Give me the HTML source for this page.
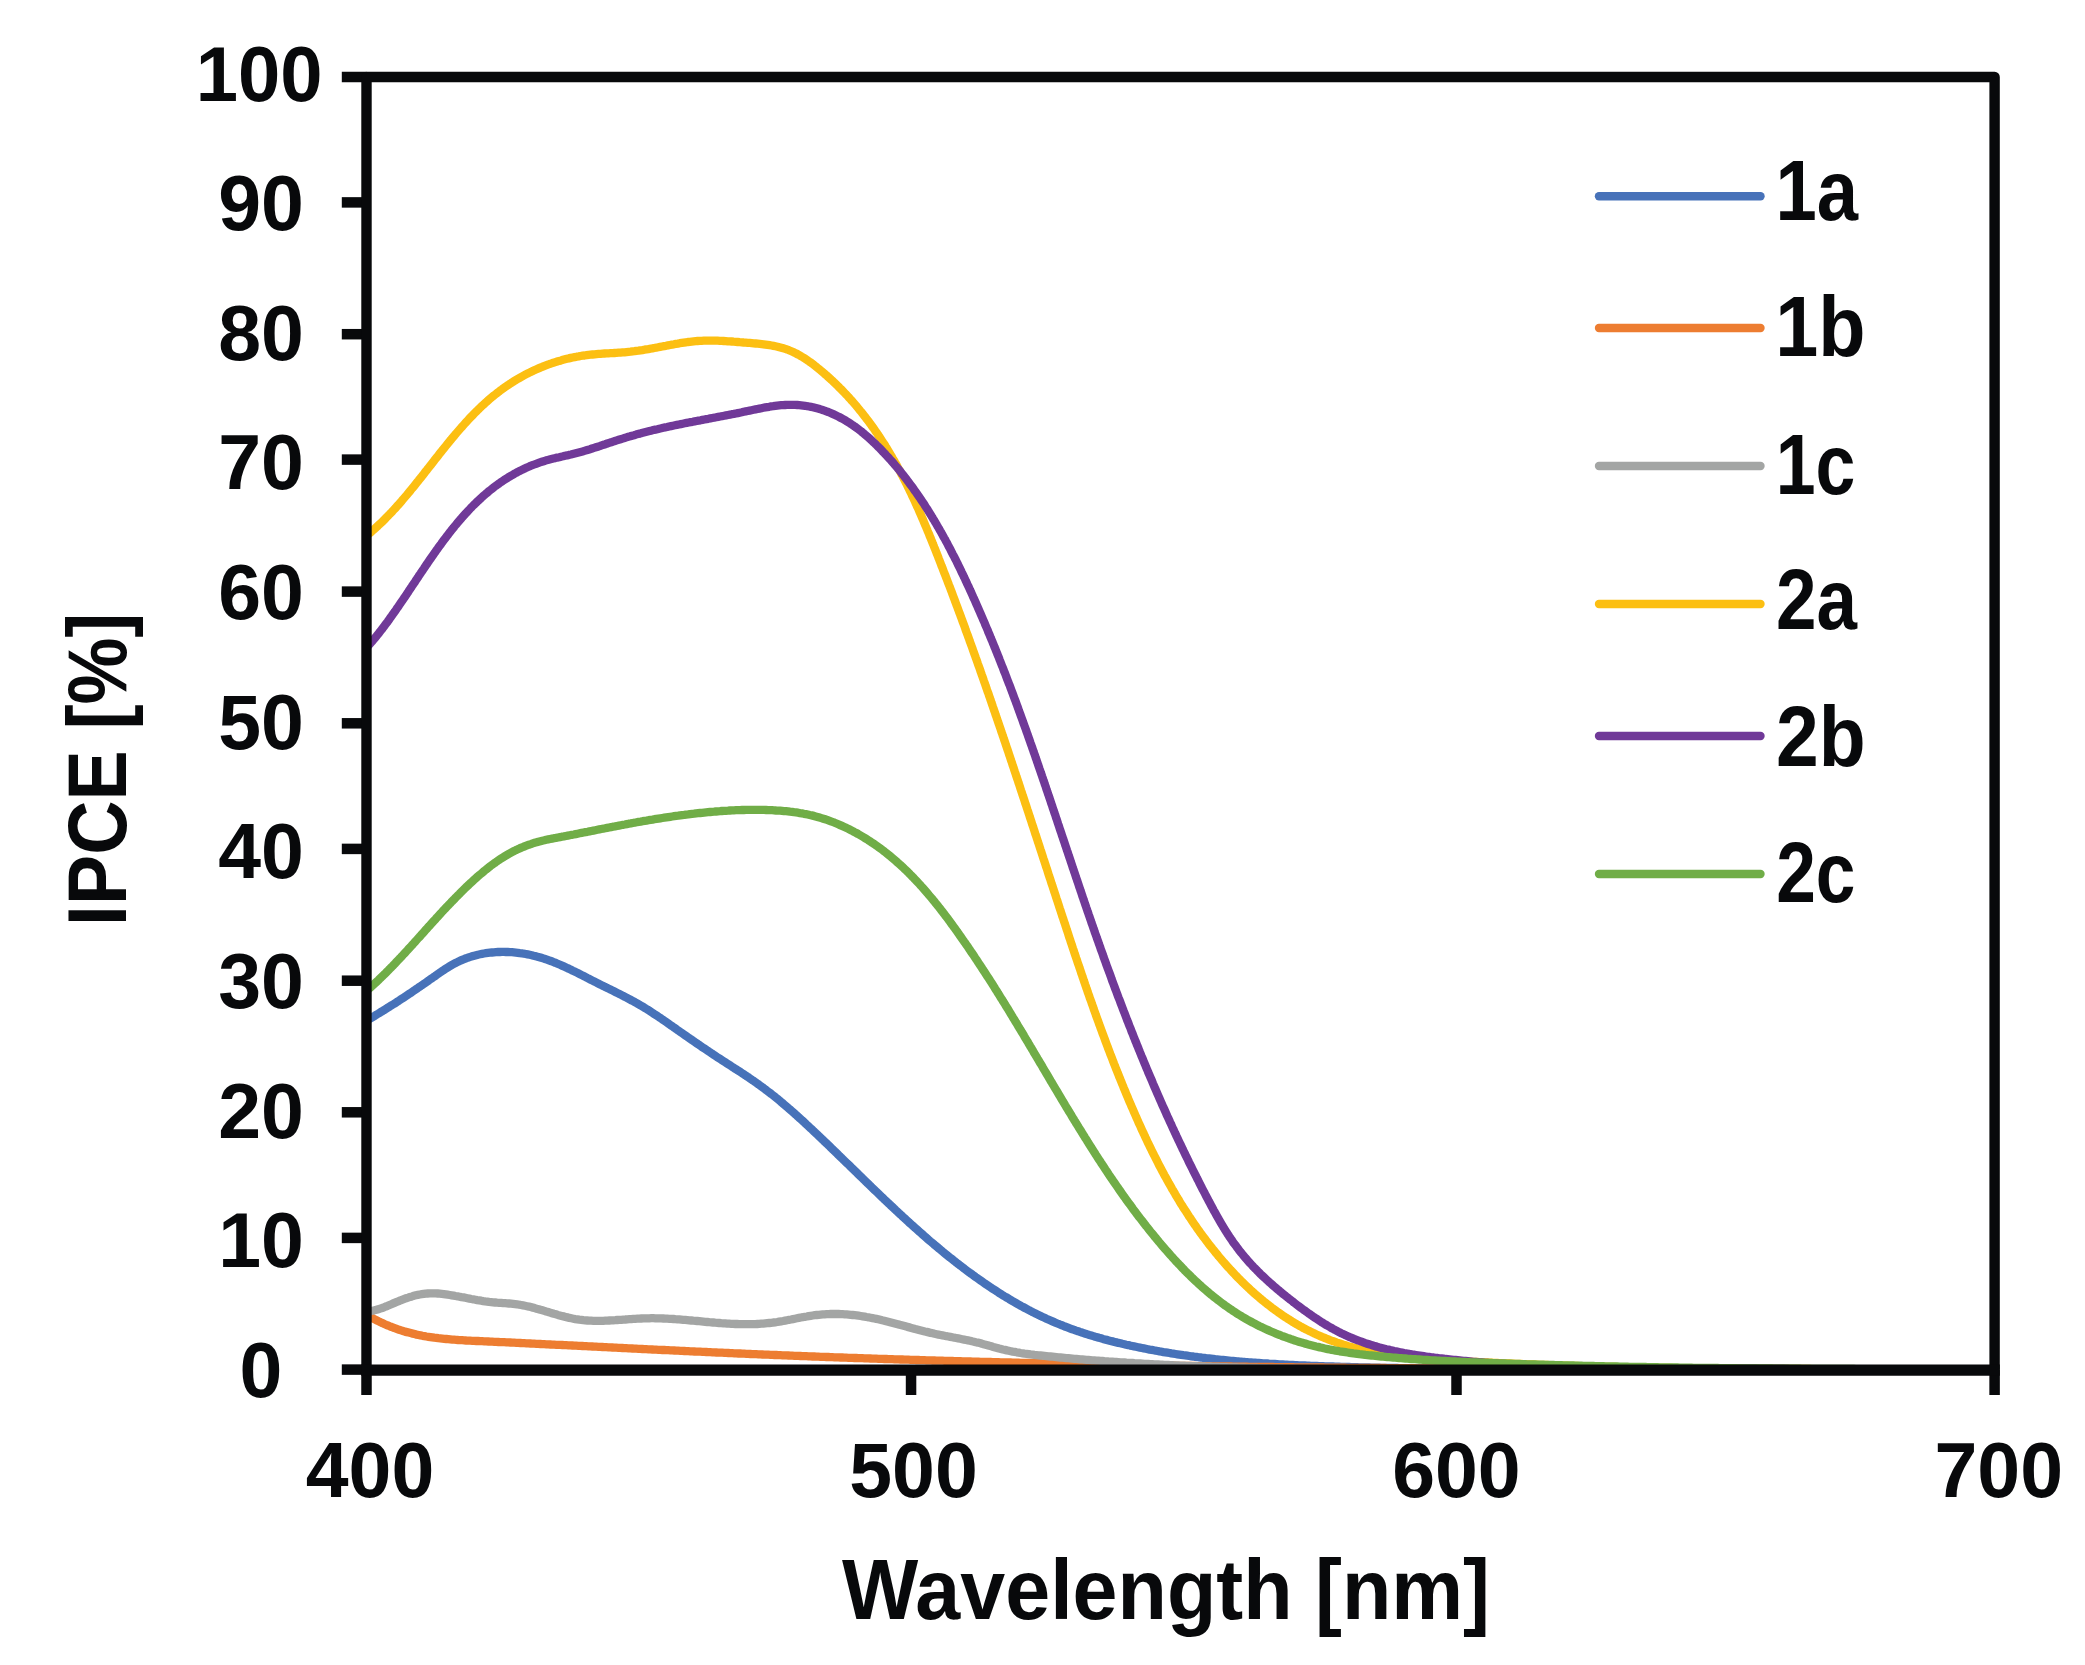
<!DOCTYPE html>
<html><head><meta charset="utf-8"><title>IPCE</title>
<style>html,body{margin:0;padding:0;background:#fff;overflow:hidden}svg{display:block}</style>
</head><body>
<svg width="2085" height="1665" viewBox="0 0 2085 1665">
<rect width="2085" height="1665" fill="#ffffff"/>
<g fill="none" stroke-width="8.3" stroke-linejoin="round" stroke-linecap="butt">
<clipPath id="pa"><rect x="366.5" y="77" width="1628" height="1293"/></clipPath>
<g clip-path="url(#pa)">
<path d="M366.5,1020.7 L368.2,1019.7 L369.9,1018.7 L371.7,1017.6 L373.4,1016.6 L375.1,1015.6 L376.8,1014.5 L378.5,1013.5 L380.2,1012.4 L381.9,1011.4 L383.6,1010.3 L385.3,1009.3 L387.0,1008.2 L388.7,1007.2 L390.4,1006.1 L392.1,1005.0 L393.8,1004.0 L395.5,1002.9 L397.2,1001.8 L398.9,1000.7 L400.5,999.6 L402.2,998.5 L403.9,997.4 L405.6,996.3 L407.2,995.2 L408.9,994.1 L410.6,993.0 L412.2,991.9 L413.9,990.7 L415.5,989.6 L417.2,988.5 L418.8,987.3 L420.5,986.2 L422.1,985.1 L423.8,983.9 L425.4,982.8 L427.1,981.6 L428.7,980.5 L430.3,979.3 L432.0,978.2 L433.6,977.0 L435.3,975.9 L436.9,974.7 L438.5,973.6 L440.2,972.4 L441.8,971.3 L443.5,970.2 L445.2,969.1 L446.9,968.0 L448.6,966.9 L450.3,965.9 L452.0,964.9 L453.8,963.9 L455.5,963.0 L457.3,962.1 L459.1,961.2 L460.9,960.4 L462.8,959.6 L464.6,958.9 L466.5,958.1 L468.4,957.5 L470.3,956.9 L472.2,956.3 L474.2,955.7 L476.1,955.2 L478.0,954.7 L480.0,954.3 L482.0,953.9 L483.9,953.5 L485.9,953.2 L487.9,952.9 L489.9,952.7 L491.9,952.5 L493.9,952.3 L495.9,952.1 L497.9,952.0 L499.9,952.0 L501.9,951.9 L503.9,951.9 L505.9,952.0 L507.9,952.0 L509.9,952.1 L511.9,952.2 L513.9,952.4 L515.9,952.6 L517.8,952.8 L519.8,953.1 L521.8,953.3 L523.8,953.7 L525.8,954.0 L527.7,954.4 L529.7,954.8 L531.7,955.2 L533.6,955.7 L535.5,956.1 L537.5,956.7 L539.4,957.2 L541.3,957.8 L543.2,958.4 L545.1,959.0 L547.0,959.6 L548.9,960.3 L550.8,961.0 L552.7,961.7 L554.5,962.5 L556.4,963.2 L558.2,964.0 L560.1,964.8 L561.9,965.6 L563.8,966.4 L565.6,967.2 L567.4,968.1 L569.2,968.9 L571.0,969.8 L572.8,970.7 L574.6,971.5 L576.4,972.4 L578.2,973.3 L580.0,974.2 L581.8,975.1 L583.6,976.0 L585.3,976.9 L587.1,977.9 L588.9,978.8 L590.7,979.7 L592.5,980.6 L594.3,981.5 L596.1,982.4 L597.8,983.3 L599.6,984.2 L601.4,985.1 L603.2,986.0 L605.0,986.9 L606.8,987.7 L608.6,988.6 L610.4,989.5 L612.2,990.4 L614.0,991.3 L615.8,992.2 L617.6,993.1 L619.4,994.0 L621.2,994.9 L622.9,995.8 L624.7,996.7 L626.5,997.6 L628.3,998.6 L630.0,999.5 L631.8,1000.5 L633.6,1001.4 L635.3,1002.4 L637.1,1003.4 L638.8,1004.4 L640.5,1005.4 L642.3,1006.4 L644.0,1007.4 L645.7,1008.5 L647.4,1009.5 L649.1,1010.6 L650.8,1011.7 L652.4,1012.8 L654.1,1013.9 L655.8,1015.0 L657.5,1016.1 L659.1,1017.2 L660.8,1018.3 L662.4,1019.5 L664.1,1020.6 L665.7,1021.7 L667.4,1022.9 L669.0,1024.0 L670.6,1025.2 L672.3,1026.3 L673.9,1027.5 L675.6,1028.6 L677.2,1029.8 L678.8,1030.9 L680.5,1032.1 L682.1,1033.2 L683.8,1034.4 L685.4,1035.5 L687.1,1036.7 L688.7,1037.8 L690.4,1038.9 L692.0,1040.1 L693.7,1041.2 L695.3,1042.3 L697.0,1043.5 L698.6,1044.6 L700.3,1045.7 L701.9,1046.9 L703.6,1048.0 L705.3,1049.1 L706.9,1050.2 L708.6,1051.3 L710.2,1052.4 L711.9,1053.6 L713.6,1054.7 L715.3,1055.8 L716.9,1056.9 L718.6,1058.0 L720.3,1059.1 L722.0,1060.2 L723.6,1061.2 L725.3,1062.3 L727.0,1063.4 L728.7,1064.5 L730.4,1065.6 L732.0,1066.7 L733.7,1067.8 L735.4,1068.9 L737.1,1069.9 L738.8,1071.0 L740.5,1072.1 L742.1,1073.2 L743.8,1074.3 L745.5,1075.4 L747.1,1076.5 L748.8,1077.6 L750.5,1078.8 L752.1,1079.9 L753.8,1081.0 L755.4,1082.2 L757.0,1083.3 L758.7,1084.5 L760.3,1085.7 L761.9,1086.9 L763.5,1088.0 L765.1,1089.2 L766.7,1090.5 L768.3,1091.7 L769.9,1092.9 L771.5,1094.1 L773.1,1095.4 L774.6,1096.6 L776.2,1097.9 L777.7,1099.1 L779.3,1100.4 L780.8,1101.7 L782.4,1103.0 L783.9,1104.3 L785.4,1105.6 L786.9,1106.9 L788.4,1108.2 L790.0,1109.5 L791.5,1110.8 L793.0,1112.1 L794.5,1113.5 L796.0,1114.8 L797.4,1116.1 L798.9,1117.5 L800.4,1118.8 L801.9,1120.2 L803.4,1121.5 L804.8,1122.9 L806.3,1124.3 L807.8,1125.6 L809.2,1127.0 L810.7,1128.4 L812.2,1129.7 L813.6,1131.1 L815.1,1132.5 L816.5,1133.9 L818.0,1135.2 L819.4,1136.6 L820.9,1138.0 L822.3,1139.4 L823.8,1140.8 L825.2,1142.2 L826.7,1143.5 L828.1,1144.9 L829.6,1146.3 L831.0,1147.7 L832.4,1149.1 L833.9,1150.5 L835.3,1151.9 L836.8,1153.3 L838.2,1154.7 L839.6,1156.1 L841.1,1157.5 L842.5,1158.9 L843.9,1160.3 L845.4,1161.7 L846.8,1163.1 L848.3,1164.4 L849.7,1165.8 L851.1,1167.2 L852.6,1168.6 L854.0,1170.0 L855.4,1171.4 L856.9,1172.8 L858.3,1174.2 L859.7,1175.6 L861.2,1177.0 L862.6,1178.4 L864.0,1179.8 L865.5,1181.2 L866.9,1182.6 L868.4,1184.0 L869.8,1185.4 L871.2,1186.8 L872.7,1188.2 L874.1,1189.6 L875.6,1191.0 L877.0,1192.3 L878.5,1193.7 L879.9,1195.1 L881.3,1196.5 L882.8,1197.9 L884.2,1199.3 L885.7,1200.6 L887.1,1202.0 L888.6,1203.4 L890.1,1204.8 L891.5,1206.2 L893.0,1207.5 L894.4,1208.9 L895.9,1210.3 L897.4,1211.6 L898.8,1213.0 L900.3,1214.4 L901.8,1215.7 L903.2,1217.1 L904.7,1218.4 L906.2,1219.8 L907.7,1221.1 L909.1,1222.5 L910.6,1223.8 L912.1,1225.2 L913.6,1226.5 L915.1,1227.9 L916.6,1229.2 L918.1,1230.5 L919.6,1231.9 L921.1,1233.2 L922.6,1234.5 L924.1,1235.8 L925.6,1237.1 L927.1,1238.5 L928.6,1239.8 L930.1,1241.1 L931.7,1242.4 L933.2,1243.7 L934.7,1245.0 L936.3,1246.3 L937.8,1247.5 L939.3,1248.8 L940.9,1250.1 L942.4,1251.4 L944.0,1252.7 L945.5,1253.9 L947.1,1255.2 L948.6,1256.4 L950.2,1257.7 L951.8,1258.9 L953.3,1260.2 L954.9,1261.4 L956.5,1262.7 L958.1,1263.9 L959.6,1265.1 L961.2,1266.3 L962.8,1267.5 L964.4,1268.8 L966.0,1270.0 L967.6,1271.2 L969.2,1272.4 L970.8,1273.5 L972.5,1274.7 L974.1,1275.9 L975.7,1277.1 L977.3,1278.2 L979.0,1279.4 L980.6,1280.5 L982.3,1281.7 L983.9,1282.8 L985.6,1284.0 L987.2,1285.1 L988.9,1286.2 L990.5,1287.3 L992.2,1288.4 L993.9,1289.5 L995.6,1290.6 L997.3,1291.7 L998.9,1292.8 L1000.6,1293.8 L1002.3,1294.9 L1004.0,1296.0 L1005.7,1297.0 L1007.5,1298.0 L1009.2,1299.1 L1010.9,1300.1 L1012.6,1301.1 L1014.4,1302.1 L1016.1,1303.1 L1017.8,1304.1 L1019.6,1305.1 L1021.3,1306.1 L1023.1,1307.0 L1024.9,1308.0 L1026.6,1308.9 L1028.4,1309.9 L1030.2,1310.8 L1031.9,1311.7 L1033.7,1312.6 L1035.5,1313.5 L1037.3,1314.4 L1039.1,1315.3 L1040.9,1316.1 L1042.7,1317.0 L1044.5,1317.8 L1046.4,1318.7 L1048.2,1319.5 L1050.0,1320.3 L1051.9,1321.1 L1053.7,1321.9 L1055.5,1322.7 L1057.4,1323.5 L1059.2,1324.2 L1061.1,1325.0 L1063.0,1325.7 L1064.8,1326.5 L1066.7,1327.2 L1068.6,1327.9 L1070.4,1328.6 L1072.3,1329.3 L1074.2,1329.9 L1076.1,1330.6 L1078.0,1331.2 L1079.9,1331.9 L1081.8,1332.5 L1083.7,1333.1 L1085.6,1333.8 L1087.5,1334.4 L1089.4,1335.0 L1091.3,1335.5 L1093.3,1336.1 L1095.2,1336.7 L1097.1,1337.2 L1099.0,1337.8 L1101.0,1338.3 L1102.9,1338.9 L1104.8,1339.4 L1106.8,1339.9 L1108.7,1340.4 L1110.6,1340.9 L1112.6,1341.4 L1114.5,1341.9 L1116.5,1342.4 L1118.4,1342.9 L1120.4,1343.3 L1122.3,1343.8 L1124.3,1344.2 L1126.2,1344.7 L1128.2,1345.1 L1130.1,1345.6 L1132.1,1346.0 L1134.0,1346.4 L1136.0,1346.8 L1138.0,1347.2 L1139.9,1347.6 L1141.9,1348.0 L1143.8,1348.4 L1145.8,1348.8 L1147.8,1349.2 L1149.7,1349.6 L1151.7,1349.9 L1153.7,1350.3 L1155.7,1350.7 L1157.6,1351.0 L1159.6,1351.4 L1161.6,1351.7 L1163.5,1352.1 L1165.5,1352.4 L1167.5,1352.7 L1169.5,1353.0 L1171.4,1353.4 L1173.4,1353.7 L1175.4,1354.0 L1177.4,1354.3 L1179.4,1354.6 L1181.3,1354.9 L1183.3,1355.2 L1185.3,1355.4 L1187.3,1355.7 L1189.3,1356.0 L1191.3,1356.3 L1193.3,1356.5 L1195.2,1356.8 L1197.2,1357.0 L1199.2,1357.3 L1201.2,1357.5 L1203.2,1357.8 L1205.2,1358.0 L1207.2,1358.3 L1209.2,1358.5 L1211.1,1358.7 L1213.1,1358.9 L1215.1,1359.2 L1217.1,1359.4 L1219.1,1359.6 L1221.1,1359.8 L1223.1,1360.0 L1225.1,1360.2 L1227.1,1360.4 L1229.1,1360.6 L1231.1,1360.8 L1233.1,1360.9 L1235.1,1361.1 L1237.1,1361.3 L1239.1,1361.5 L1241.0,1361.6 L1243.0,1361.8 L1245.0,1362.0 L1247.0,1362.1 L1249.0,1362.3 L1251.0,1362.4 L1253.0,1362.6 L1255.0,1362.7 L1257.0,1362.9 L1259.0,1363.0 L1261.0,1363.1 L1263.0,1363.3 L1265.0,1363.4 L1267.0,1363.5 L1269.0,1363.7 L1271.0,1363.8 L1273.0,1363.9 L1275.0,1364.0 L1277.0,1364.1 L1279.0,1364.3 L1281.0,1364.4 L1283.0,1364.5 L1285.0,1364.6 L1287.0,1364.7 L1289.0,1364.8 L1291.0,1364.9 L1293.0,1365.0 L1295.0,1365.1 L1297.0,1365.2 L1299.0,1365.3 L1301.0,1365.4 L1303.0,1365.4 L1305.0,1365.5 L1307.0,1365.6 L1309.0,1365.7 L1311.0,1365.8 L1313.0,1365.8 L1315.0,1365.9 L1317.0,1366.0 L1319.0,1366.1 L1321.0,1366.1 L1323.0,1366.2 L1325.0,1366.3 L1327.0,1366.4 L1329.0,1366.4 L1331.0,1366.5 L1333.0,1366.5 L1335.0,1366.6 L1337.0,1366.7 L1339.0,1366.7 L1341.1,1366.8 L1343.1,1366.9 L1345.1,1366.9 L1347.1,1367.0 L1349.1,1367.0 L1351.1,1367.1 L1353.1,1367.1 L1355.1,1367.2 L1357.1,1367.2 L1359.1,1367.3 L1361.1,1367.3 L1363.1,1367.4 L1365.1,1367.4 L1367.1,1367.5 L1369.1,1367.5 L1371.1,1367.6 L1373.1,1367.6 L1375.1,1367.6 L1377.1,1367.7 L1379.1,1367.7 L1381.1,1367.8 L1383.1,1367.8 L1385.1,1367.8 L1387.1,1367.9 L1389.1,1367.9 L1391.1,1367.9 L1393.1,1368.0 L1395.1,1368.0 L1397.1,1368.0 L1399.1,1368.1 L1401.1,1368.1 L1403.1,1368.1 L1405.1,1368.2 L1407.1,1368.2 L1409.1,1368.2 L1411.1,1368.2 L1413.1,1368.3 L1415.1,1368.3 L1417.2,1368.3 L1419.2,1368.3 L1421.2,1368.3 L1423.2,1368.4 L1425.2,1368.4 L1427.2,1368.4 L1429.2,1368.4 L1431.2,1368.4 L1433.2,1368.5 L1435.2,1368.5 L1437.2,1368.5 L1439.2,1368.5 L1441.2,1368.5 L1443.2,1368.5 L1445.2,1368.5 L1447.2,1368.6 L1449.2,1368.6 L1451.2,1368.6 L1453.2,1368.6 L1455.2,1368.6 L1457.2,1368.6 L1459.2,1368.6 L1461.2,1368.6 L1463.2,1368.6 L1465.2,1368.6 L1467.2,1368.6 L1469.2,1368.7 L1471.2,1368.7 L1473.2,1368.7 L1475.2,1368.7 L1477.2,1368.7 L1479.2,1368.7 L1481.2,1368.7 L1483.2,1368.7 L1485.3,1368.7 L1487.3,1368.7 L1489.3,1368.7 L1491.3,1368.7 L1493.3,1368.7 L1495.3,1368.7 L1497.3,1368.7 L1499.3,1368.7 L1501.3,1368.7 L1503.3,1368.7 L1505.3,1368.7 L1507.3,1368.7 L1509.3,1368.7 L1511.3,1368.7 L1513.3,1368.7 L1515.3,1368.7 L1517.3,1368.7 L1519.3,1368.7 L1521.3,1368.7 L1523.3,1368.7 L1525.3,1368.6 L1527.3,1368.6 L1529.3,1368.6 L1531.3,1368.6 L1533.3,1368.6 L1535.3,1368.6 L1537.3,1368.6 L1539.3,1368.6 L1541.3,1368.6 L1543.3,1368.6 L1545.3,1368.6 L1547.3,1368.6 L1549.3,1368.6 L1551.3,1368.6 L1553.4,1368.6 L1555.4,1368.5 L1557.4,1368.5 L1559.4,1368.5 L1561.4,1368.5 L1563.4,1368.5 L1565.4,1368.5 L1567.4,1368.5 L1569.4,1368.5 L1571.4,1368.5 L1573.4,1368.5 L1575.4,1368.5 L1577.4,1368.5 L1579.4,1368.4 L1581.4,1368.4 L1583.4,1368.4 L1585.4,1368.4 L1587.4,1368.4 L1589.4,1368.4 L1591.4,1368.4 L1593.4,1368.4 L1595.4,1368.4 L1597.4,1368.4 L1599.4,1368.4 L1601.4,1368.4 L1603.4,1368.3 L1605.4,1368.3 L1607.4,1368.3 L1609.4,1368.3 L1611.4,1368.3 L1613.4,1368.3 L1615.4,1368.3 L1617.4,1368.3 L1619.5,1368.3 L1621.5,1368.3 L1623.5,1368.3 L1625.5,1368.3 L1627.5,1368.3 L1629.5,1368.3 L1631.5,1368.2 L1633.5,1368.2 L1635.5,1368.2 L1637.5,1368.2 L1639.5,1368.2 L1641.5,1368.2 L1643.5,1368.2 L1645.5,1368.2 L1647.5,1368.2 L1649.5,1368.2 L1651.5,1368.2 L1653.5,1368.2 L1655.5,1368.2 L1657.5,1368.2 L1659.5,1368.2 L1661.5,1368.2 L1663.5,1368.2 L1665.5,1368.2 L1667.5,1368.2 L1669.5,1368.2 L1671.5,1368.2 L1673.5,1368.2 L1675.5,1368.2 L1677.5,1368.2 L1679.5,1368.2 L1681.5,1368.2 L1683.5,1368.2 L1685.6,1368.2 L1687.6,1368.2 L1689.6,1368.2 L1691.6,1368.3 L1693.6,1368.3 L1695.6,1368.3 L1697.6,1368.3 L1699.6,1368.3 L1701.6,1368.3 L1703.6,1368.3 L1705.6,1368.3 L1707.6,1368.3 L1709.6,1368.3 L1711.6,1368.3 L1713.6,1368.4 L1715.6,1368.4 L1717.6,1368.4 L1719.6,1368.4 L1721.6,1368.4 L1723.6,1368.4 L1725.6,1368.4 L1727.6,1368.5 L1729.6,1368.5 L1731.6,1368.5 L1733.6,1368.5 L1735.6,1368.5 L1737.6,1368.5 L1739.6,1368.6 L1741.6,1368.6 L1743.6,1368.6 L1745.6,1368.6 L1747.6,1368.6 L1749.6,1368.7 L1751.6,1368.7 L1753.7,1368.7 L1755.7,1368.7 L1757.7,1368.7 L1759.7,1368.8 L1761.7,1368.8 L1763.7,1368.8 L1765.7,1368.8 L1767.7,1368.8 L1769.7,1368.9 L1771.7,1368.9 L1773.7,1368.9 L1775.7,1368.9 L1777.7,1369.0 L1779.7,1369.0 L1781.7,1369.0 L1783.7,1369.0 L1785.7,1369.1 L1787.7,1369.1 L1789.7,1369.1 L1791.7,1369.1 L1793.7,1369.1 L1795.7,1369.2 L1797.7,1369.2 L1799.7,1369.2 L1801.7,1369.2 L1803.7,1369.3 L1805.7,1369.3 L1807.7,1369.3 L1809.7,1369.3 L1811.7,1369.4 L1813.7,1369.4 L1815.7,1369.4 L1817.7,1369.4 L1819.7,1369.4 L1821.7,1369.5 L1823.8,1369.5 L1825.8,1369.5 L1827.8,1369.5 L1829.8,1369.6 L1831.8,1369.6 L1833.8,1369.6 L1835.8,1369.6 L1837.8,1369.6 L1839.8,1369.7 L1841.8,1369.7 L1843.8,1369.7 L1845.8,1369.7 L1847.8,1369.7 L1849.8,1369.8 L1851.8,1369.8 L1853.8,1369.8 L1855.8,1369.8 L1857.8,1369.8 L1859.8,1369.8 L1861.8,1369.9 L1863.8,1369.9 L1865.8,1369.9 L1867.8,1369.9 L1869.8,1369.9 L1871.8,1369.9 L1873.8,1370.0 L1875.8,1370.0 L1877.8,1370.0 L1879.8,1370.0 L1881.8,1370.0 L1883.8,1370.0 L1885.8,1370.0 L1887.8,1370.0 L1889.8,1370.1 L1891.9,1370.1 L1893.9,1370.1 L1895.9,1370.1 L1897.9,1370.1 L1899.9,1370.1 L1901.9,1370.1 L1903.9,1370.1 L1905.9,1370.1 L1907.9,1370.1 L1909.9,1370.1 L1911.9,1370.1 L1913.9,1370.1 L1915.9,1370.1 L1917.9,1370.1 L1919.9,1370.1 L1921.9,1370.1 L1923.9,1370.1 L1925.9,1370.1 L1927.9,1370.1 L1929.9,1370.1 L1931.9,1370.1 L1933.9,1370.1 L1935.9,1370.1 L1937.9,1370.1 L1939.9,1370.1 L1941.9,1370.1 L1943.9,1370.1 L1945.9,1370.1 L1947.9,1370.1 L1949.9,1370.1 L1951.9,1370.0 L1953.9,1370.0 L1955.9,1370.0 L1958.0,1370.0 L1960.0,1370.0 L1962.0,1370.0 L1964.0,1369.9 L1966.0,1369.9 L1968.0,1369.9 L1970.0,1369.9 L1972.0,1369.9 L1974.0,1369.8 L1976.0,1369.8 L1978.0,1369.8 L1980.0,1369.8 L1982.0,1369.7 L1984.0,1369.7 L1986.0,1369.7 L1988.0,1369.6 L1990.0,1369.6 L1992.0,1369.6 L1994.0,1369.5" stroke="#4772B9"/>
<path d="M366.5,1314.7 L368.3,1315.7 L370.0,1316.7 L371.7,1317.7 L373.5,1318.7 L375.3,1319.6 L377.0,1320.5 L378.8,1321.4 L380.6,1322.3 L382.4,1323.1 L384.3,1324.0 L386.1,1324.8 L388.0,1325.5 L389.8,1326.3 L391.7,1327.0 L393.5,1327.8 L395.4,1328.4 L397.3,1329.1 L399.2,1329.8 L401.1,1330.4 L403.0,1331.0 L404.9,1331.6 L406.9,1332.1 L408.8,1332.6 L410.7,1333.1 L412.7,1333.6 L414.6,1334.1 L416.6,1334.6 L418.5,1335.0 L420.5,1335.4 L422.5,1335.8 L424.4,1336.1 L426.4,1336.5 L428.4,1336.8 L430.4,1337.1 L432.3,1337.4 L434.3,1337.7 L436.3,1337.9 L438.3,1338.2 L440.3,1338.4 L442.3,1338.6 L444.3,1338.8 L446.3,1339.0 L448.3,1339.2 L450.3,1339.4 L452.3,1339.6 L454.2,1339.7 L456.2,1339.8 L458.2,1340.0 L460.2,1340.1 L462.2,1340.2 L464.2,1340.3 L466.2,1340.5 L468.2,1340.6 L470.2,1340.7 L472.2,1340.8 L474.2,1340.9 L476.2,1341.0 L478.2,1341.0 L480.2,1341.1 L482.2,1341.2 L484.2,1341.3 L486.2,1341.4 L488.3,1341.5 L490.3,1341.6 L492.3,1341.7 L494.3,1341.8 L496.3,1341.9 L498.3,1342.0 L500.3,1342.1 L502.3,1342.2 L504.3,1342.2 L506.3,1342.3 L508.3,1342.4 L510.3,1342.5 L512.3,1342.6 L514.3,1342.7 L516.3,1342.8 L518.3,1342.9 L520.3,1343.0 L522.3,1343.1 L524.3,1343.2 L526.3,1343.3 L528.3,1343.4 L530.3,1343.5 L532.3,1343.6 L534.3,1343.7 L536.3,1343.8 L538.3,1343.9 L540.3,1344.0 L542.3,1344.1 L544.3,1344.2 L546.3,1344.3 L548.3,1344.4 L550.3,1344.5 L552.3,1344.6 L554.3,1344.7 L556.3,1344.8 L558.3,1344.8 L560.3,1344.9 L562.3,1345.0 L564.3,1345.1 L566.3,1345.2 L568.3,1345.3 L570.3,1345.4 L572.3,1345.5 L574.3,1345.6 L576.3,1345.7 L578.3,1345.8 L580.3,1345.9 L582.3,1346.0 L584.3,1346.1 L586.3,1346.2 L588.3,1346.3 L590.3,1346.4 L592.3,1346.5 L594.3,1346.6 L596.3,1346.7 L598.3,1346.8 L600.3,1346.9 L602.3,1347.0 L604.3,1347.1 L606.3,1347.2 L608.3,1347.3 L610.3,1347.4 L612.3,1347.5 L614.3,1347.6 L616.3,1347.7 L618.3,1347.8 L620.3,1347.9 L622.3,1348.0 L624.3,1348.1 L626.3,1348.2 L628.3,1348.3 L630.3,1348.4 L632.3,1348.5 L634.3,1348.6 L636.3,1348.7 L638.3,1348.8 L640.3,1348.9 L642.3,1349.0 L644.3,1349.1 L646.3,1349.2 L648.3,1349.3 L650.3,1349.4 L652.3,1349.5 L654.3,1349.6 L656.3,1349.7 L658.3,1349.8 L660.3,1349.9 L662.3,1350.0 L664.3,1350.0 L666.3,1350.1 L668.3,1350.2 L670.3,1350.3 L672.3,1350.4 L674.3,1350.5 L676.3,1350.6 L678.3,1350.7 L680.3,1350.8 L682.3,1350.9 L684.3,1351.0 L686.3,1351.1 L688.3,1351.2 L690.3,1351.3 L692.3,1351.4 L694.3,1351.5 L696.3,1351.6 L698.3,1351.7 L700.3,1351.7 L702.3,1351.8 L704.3,1351.9 L706.3,1352.0 L708.3,1352.1 L710.3,1352.2 L712.3,1352.3 L714.3,1352.4 L716.3,1352.5 L718.3,1352.6 L720.3,1352.7 L722.3,1352.7 L724.3,1352.8 L726.3,1352.9 L728.3,1353.0 L730.3,1353.1 L732.3,1353.2 L734.3,1353.3 L736.3,1353.4 L738.3,1353.5 L740.3,1353.5 L742.3,1353.6 L744.3,1353.7 L746.3,1353.8 L748.3,1353.9 L750.3,1354.0 L752.3,1354.1 L754.3,1354.1 L756.3,1354.2 L758.3,1354.3 L760.3,1354.4 L762.4,1354.5 L764.4,1354.6 L766.4,1354.6 L768.4,1354.7 L770.4,1354.8 L772.4,1354.9 L774.4,1355.0 L776.4,1355.0 L778.4,1355.1 L780.4,1355.2 L782.4,1355.3 L784.4,1355.4 L786.4,1355.4 L788.4,1355.5 L790.4,1355.6 L792.4,1355.7 L794.4,1355.8 L796.4,1355.8 L798.4,1355.9 L800.4,1356.0 L802.4,1356.1 L804.4,1356.1 L806.4,1356.2 L808.4,1356.3 L810.4,1356.4 L812.4,1356.5 L814.4,1356.5 L816.4,1356.6 L818.4,1356.7 L820.4,1356.8 L822.4,1356.8 L824.4,1356.9 L826.4,1357.0 L828.4,1357.0 L830.4,1357.1 L832.4,1357.2 L834.4,1357.3 L836.4,1357.3 L838.4,1357.4 L840.4,1357.5 L842.4,1357.5 L844.4,1357.6 L846.4,1357.7 L848.4,1357.8 L850.4,1357.8 L852.4,1357.9 L854.4,1358.0 L856.4,1358.0 L858.4,1358.1 L860.4,1358.2 L862.4,1358.2 L864.4,1358.3 L866.4,1358.4 L868.4,1358.4 L870.4,1358.5 L872.4,1358.6 L874.4,1358.6 L876.4,1358.7 L878.4,1358.8 L880.4,1358.8 L882.4,1358.9 L884.4,1359.0 L886.4,1359.0 L888.5,1359.1 L890.5,1359.2 L892.5,1359.2 L894.5,1359.3 L896.5,1359.4 L898.5,1359.4 L900.5,1359.5 L902.5,1359.5 L904.5,1359.6 L906.5,1359.7 L908.5,1359.7 L910.5,1359.8 L912.5,1359.9 L914.5,1359.9 L916.5,1360.0 L918.5,1360.0 L920.5,1360.1 L922.5,1360.2 L924.5,1360.2 L926.5,1360.3 L928.5,1360.3 L930.5,1360.4 L932.5,1360.5 L934.5,1360.5 L936.5,1360.6 L938.5,1360.6 L940.5,1360.7 L942.5,1360.7 L944.5,1360.8 L946.5,1360.9 L948.5,1360.9 L950.5,1361.0 L952.5,1361.0 L954.5,1361.1 L956.5,1361.1 L958.5,1361.2 L960.5,1361.2 L962.5,1361.3 L964.5,1361.3 L966.5,1361.4 L968.5,1361.5 L970.5,1361.5 L972.5,1361.6 L974.5,1361.6 L976.5,1361.7 L978.5,1361.7 L980.5,1361.8 L982.6,1361.8 L984.6,1361.9 L986.6,1361.9 L988.6,1362.0 L990.6,1362.0 L992.6,1362.1 L994.6,1362.1 L996.6,1362.2 L998.6,1362.2 L1000.6,1362.3 L1002.6,1362.3 L1004.6,1362.4 L1006.6,1362.4 L1008.6,1362.5 L1010.6,1362.5 L1012.6,1362.6 L1014.6,1362.6 L1016.6,1362.7 L1018.6,1362.7 L1020.6,1362.8 L1022.6,1362.8 L1024.6,1362.9 L1026.6,1362.9 L1028.6,1363.0 L1030.6,1363.0 L1032.6,1363.0 L1034.6,1363.1 L1036.6,1363.1 L1038.6,1363.2 L1040.6,1363.2 L1042.6,1363.3 L1044.6,1363.3 L1046.6,1363.4 L1048.6,1363.4 L1050.6,1363.4 L1052.6,1363.5 L1054.6,1363.5 L1056.6,1363.6 L1058.6,1363.6 L1060.6,1363.7 L1062.6,1363.7 L1064.7,1363.7 L1066.7,1363.8 L1068.7,1363.8 L1070.7,1363.9 L1072.7,1363.9 L1074.7,1364.0 L1076.7,1364.0 L1078.7,1364.0 L1080.7,1364.1 L1082.7,1364.1 L1084.7,1364.2 L1086.7,1364.2 L1088.7,1364.2 L1090.7,1364.3 L1092.7,1364.3 L1094.7,1364.4 L1096.7,1364.4 L1098.7,1364.4 L1100.7,1364.5 L1102.7,1364.5 L1104.7,1364.5 L1106.7,1364.6 L1108.7,1364.6 L1110.7,1364.7 L1112.7,1364.7 L1114.7,1364.7 L1116.7,1364.8 L1118.7,1364.8 L1120.7,1364.8 L1122.7,1364.9 L1124.7,1364.9 L1126.7,1364.9 L1128.7,1365.0 L1130.7,1365.0 L1132.7,1365.1 L1134.7,1365.1 L1136.7,1365.1 L1138.7,1365.2 L1140.7,1365.2 L1142.8,1365.2 L1144.8,1365.3 L1146.8,1365.3 L1148.8,1365.3 L1150.8,1365.4 L1152.8,1365.4 L1154.8,1365.4 L1156.8,1365.5 L1158.8,1365.5 L1160.8,1365.5 L1162.8,1365.6 L1164.8,1365.6 L1166.8,1365.6 L1168.8,1365.6 L1170.8,1365.7 L1172.8,1365.7 L1174.8,1365.7 L1176.8,1365.8 L1178.8,1365.8 L1180.8,1365.8 L1182.8,1365.9 L1184.8,1365.9 L1186.8,1365.9 L1188.8,1366.0 L1190.8,1366.0 L1192.8,1366.0 L1194.8,1366.0 L1196.8,1366.1 L1198.8,1366.1 L1200.8,1366.1 L1202.8,1366.2 L1204.8,1366.2 L1206.8,1366.2 L1208.8,1366.2 L1210.8,1366.3 L1212.8,1366.3 L1214.9,1366.3 L1216.9,1366.3 L1218.9,1366.4 L1220.9,1366.4 L1222.9,1366.4 L1224.9,1366.5 L1226.9,1366.5 L1228.9,1366.5 L1230.9,1366.5 L1232.9,1366.6 L1234.9,1366.6 L1236.9,1366.6 L1238.9,1366.6 L1240.9,1366.7 L1242.9,1366.7 L1244.9,1366.7 L1246.9,1366.7 L1248.9,1366.8 L1250.9,1366.8 L1252.9,1366.8 L1254.9,1366.8 L1256.9,1366.9 L1258.9,1366.9 L1260.9,1366.9 L1262.9,1366.9 L1264.9,1366.9 L1266.9,1367.0 L1268.9,1367.0 L1270.9,1367.0 L1272.9,1367.0 L1274.9,1367.1 L1276.9,1367.1 L1278.9,1367.1 L1280.9,1367.1 L1282.9,1367.1 L1284.9,1367.2 L1287.0,1367.2 L1289.0,1367.2 L1291.0,1367.2 L1293.0,1367.2 L1295.0,1367.3 L1297.0,1367.3 L1299.0,1367.3 L1301.0,1367.3 L1303.0,1367.3 L1305.0,1367.4 L1307.0,1367.4 L1309.0,1367.4 L1311.0,1367.4 L1313.0,1367.4 L1315.0,1367.5 L1317.0,1367.5 L1319.0,1367.5 L1321.0,1367.5 L1323.0,1367.5 L1325.0,1367.6 L1327.0,1367.6 L1329.0,1367.6 L1331.0,1367.6 L1333.0,1367.6 L1335.0,1367.6 L1337.0,1367.7 L1339.0,1367.7 L1341.0,1367.7 L1343.0,1367.7 L1345.0,1367.7 L1347.0,1367.8 L1349.0,1367.8 L1351.0,1367.8 L1353.0,1367.8 L1355.1,1367.8 L1357.1,1367.8 L1359.1,1367.9 L1361.1,1367.9 L1363.1,1367.9 L1365.1,1367.9 L1367.1,1367.9 L1369.1,1367.9 L1371.1,1367.9 L1373.1,1368.0 L1375.1,1368.0 L1377.1,1368.0 L1379.1,1368.0 L1381.1,1368.0 L1383.1,1368.0 L1385.1,1368.0 L1387.1,1368.1 L1389.1,1368.1 L1391.1,1368.1 L1393.1,1368.1 L1395.1,1368.1 L1397.1,1368.1 L1399.1,1368.1 L1401.1,1368.2 L1403.1,1368.2 L1405.1,1368.2 L1407.1,1368.2 L1409.1,1368.2 L1411.1,1368.2 L1413.1,1368.2 L1415.1,1368.2 L1417.1,1368.3 L1419.1,1368.3 L1421.1,1368.3 L1423.1,1368.3 L1425.2,1368.3 L1427.2,1368.3 L1429.2,1368.3 L1431.2,1368.3 L1433.2,1368.4 L1435.2,1368.4 L1437.2,1368.4 L1439.2,1368.4 L1441.2,1368.4 L1443.2,1368.4 L1445.2,1368.4 L1447.2,1368.4 L1449.2,1368.4 L1451.2,1368.5 L1453.2,1368.5 L1455.2,1368.5 L1457.2,1368.5 L1459.2,1368.5 L1461.2,1368.5 L1463.2,1368.5 L1465.2,1368.5 L1467.2,1368.5 L1469.2,1368.5 L1471.2,1368.6 L1473.2,1368.6 L1475.2,1368.6 L1477.2,1368.6 L1479.2,1368.6 L1481.2,1368.6 L1483.2,1368.6 L1485.2,1368.6 L1487.2,1368.6 L1489.2,1368.6 L1491.2,1368.6 L1493.3,1368.7 L1495.3,1368.7 L1497.3,1368.7 L1499.3,1368.7 L1501.3,1368.7 L1503.3,1368.7 L1505.3,1368.7 L1507.3,1368.7 L1509.3,1368.7 L1511.3,1368.7 L1513.3,1368.7 L1515.3,1368.7 L1517.3,1368.8 L1519.3,1368.8 L1521.3,1368.8 L1523.3,1368.8 L1525.3,1368.8 L1527.3,1368.8 L1529.3,1368.8 L1531.3,1368.8 L1533.3,1368.8 L1535.3,1368.8 L1537.3,1368.8 L1539.3,1368.8 L1541.3,1368.8 L1543.3,1368.8 L1545.3,1368.9 L1547.3,1368.9 L1549.3,1368.9 L1551.3,1368.9 L1553.3,1368.9 L1555.3,1368.9 L1557.3,1368.9 L1559.4,1368.9 L1561.4,1368.9 L1563.4,1368.9 L1565.4,1368.9 L1567.4,1368.9 L1569.4,1368.9 L1571.4,1368.9 L1573.4,1368.9 L1575.4,1368.9 L1577.4,1368.9 L1579.4,1369.0 L1581.4,1369.0 L1583.4,1369.0 L1585.4,1369.0 L1587.4,1369.0 L1589.4,1369.0 L1591.4,1369.0 L1593.4,1369.0 L1595.4,1369.0 L1597.4,1369.0 L1599.4,1369.0 L1601.4,1369.0 L1603.4,1369.0 L1605.4,1369.0 L1607.4,1369.0 L1609.4,1369.0 L1611.4,1369.0 L1613.4,1369.0 L1615.4,1369.0 L1617.4,1369.0 L1619.4,1369.0 L1621.4,1369.1 L1623.4,1369.1 L1625.4,1369.1 L1627.5,1369.1 L1629.5,1369.1 L1631.5,1369.1 L1633.5,1369.1 L1635.5,1369.1 L1637.5,1369.1 L1639.5,1369.1 L1641.5,1369.1 L1643.5,1369.1 L1645.5,1369.1 L1647.5,1369.1 L1649.5,1369.1 L1651.5,1369.1 L1653.5,1369.1 L1655.5,1369.1 L1657.5,1369.1 L1659.5,1369.1 L1661.5,1369.1 L1663.5,1369.1 L1665.5,1369.1 L1667.5,1369.1 L1669.5,1369.1 L1671.5,1369.1 L1673.5,1369.1 L1675.5,1369.2 L1677.5,1369.2 L1679.5,1369.2 L1681.5,1369.2 L1683.5,1369.2 L1685.5,1369.2 L1687.5,1369.2 L1689.5,1369.2 L1691.5,1369.2 L1693.5,1369.2 L1695.6,1369.2 L1697.6,1369.2 L1699.6,1369.2 L1701.6,1369.2 L1703.6,1369.2 L1705.6,1369.2 L1707.6,1369.2 L1709.6,1369.2 L1711.6,1369.2 L1713.6,1369.2 L1715.6,1369.2 L1717.6,1369.2 L1719.6,1369.2 L1721.6,1369.2 L1723.6,1369.2 L1725.6,1369.2 L1727.6,1369.2 L1729.6,1369.2 L1731.6,1369.2 L1733.6,1369.2 L1735.6,1369.2 L1737.6,1369.2 L1739.6,1369.2 L1741.6,1369.2 L1743.6,1369.2 L1745.6,1369.2 L1747.6,1369.2 L1749.6,1369.2 L1751.6,1369.3 L1753.6,1369.3 L1755.6,1369.3 L1757.6,1369.3 L1759.6,1369.3 L1761.6,1369.3 L1763.7,1369.3 L1765.7,1369.3 L1767.7,1369.3 L1769.7,1369.3 L1771.7,1369.3 L1773.7,1369.3 L1775.7,1369.3 L1777.7,1369.3 L1779.7,1369.3 L1781.7,1369.3 L1783.7,1369.3 L1785.7,1369.3 L1787.7,1369.3 L1789.7,1369.3 L1791.7,1369.3 L1793.7,1369.3 L1795.7,1369.3 L1797.7,1369.3 L1799.7,1369.3 L1801.7,1369.3 L1803.7,1369.3 L1805.7,1369.3 L1807.7,1369.3 L1809.7,1369.3 L1811.7,1369.3 L1813.7,1369.3 L1815.7,1369.3 L1817.7,1369.3 L1819.7,1369.3 L1821.7,1369.3 L1823.7,1369.3 L1825.7,1369.3 L1827.7,1369.3 L1829.8,1369.3 L1831.8,1369.3 L1833.8,1369.3 L1835.8,1369.3 L1837.8,1369.4 L1839.8,1369.4 L1841.8,1369.4 L1843.8,1369.4 L1845.8,1369.4 L1847.8,1369.4 L1849.8,1369.4 L1851.8,1369.4 L1853.8,1369.4 L1855.8,1369.4 L1857.8,1369.4 L1859.8,1369.4 L1861.8,1369.4 L1863.8,1369.4 L1865.8,1369.4 L1867.8,1369.4 L1869.8,1369.4 L1871.8,1369.4 L1873.8,1369.4 L1875.8,1369.4 L1877.8,1369.4 L1879.8,1369.4 L1881.8,1369.4 L1883.8,1369.4 L1885.8,1369.4 L1887.8,1369.4 L1889.8,1369.4 L1891.8,1369.4 L1893.8,1369.4 L1895.8,1369.4 L1897.9,1369.4 L1899.9,1369.4 L1901.9,1369.4 L1903.9,1369.5 L1905.9,1369.5 L1907.9,1369.5 L1909.9,1369.5 L1911.9,1369.5 L1913.9,1369.5 L1915.9,1369.5 L1917.9,1369.5 L1919.9,1369.5 L1921.9,1369.5 L1923.9,1369.5 L1925.9,1369.5 L1927.9,1369.5 L1929.9,1369.5 L1931.9,1369.5 L1933.9,1369.5 L1935.9,1369.5 L1937.9,1369.5 L1939.9,1369.5 L1941.9,1369.5 L1943.9,1369.5 L1945.9,1369.5 L1947.9,1369.5 L1949.9,1369.5 L1951.9,1369.5 L1953.9,1369.6 L1955.9,1369.6 L1957.9,1369.6 L1959.9,1369.6 L1961.9,1369.6 L1963.9,1369.6 L1966.0,1369.6 L1968.0,1369.6 L1970.0,1369.6 L1972.0,1369.6 L1974.0,1369.6 L1976.0,1369.6 L1978.0,1369.6 L1980.0,1369.6 L1982.0,1369.6 L1984.0,1369.6 L1986.0,1369.6 L1988.0,1369.6 L1990.0,1369.6 L1992.0,1369.7 L1994.0,1369.7" stroke="#ED7D31"/>
<path d="M366.5,1311.5 L368.5,1311.3 L370.5,1311.1 L372.5,1310.7 L374.4,1310.3 L376.4,1309.8 L378.3,1309.2 L380.2,1308.6 L382.1,1308.0 L384.0,1307.3 L385.8,1306.5 L387.7,1305.8 L389.5,1305.0 L391.4,1304.2 L393.2,1303.4 L395.1,1302.6 L396.9,1301.8 L398.8,1301.1 L400.6,1300.3 L402.5,1299.6 L404.4,1298.9 L406.2,1298.2 L408.1,1297.6 L410.1,1296.9 L412.0,1296.4 L413.9,1295.8 L415.8,1295.3 L417.8,1294.9 L419.8,1294.5 L421.7,1294.2 L423.7,1293.9 L425.7,1293.6 L427.7,1293.5 L429.7,1293.4 L431.7,1293.3 L433.7,1293.3 L435.7,1293.4 L437.7,1293.5 L439.7,1293.7 L441.7,1293.9 L443.7,1294.1 L445.7,1294.4 L447.7,1294.7 L449.7,1295.0 L451.6,1295.3 L453.6,1295.6 L455.6,1296.0 L457.6,1296.3 L459.5,1296.7 L461.5,1297.1 L463.5,1297.4 L465.4,1297.8 L467.4,1298.2 L469.4,1298.6 L471.3,1299.0 L473.3,1299.3 L475.3,1299.7 L477.2,1300.1 L479.2,1300.4 L481.2,1300.7 L483.2,1301.1 L485.2,1301.4 L487.1,1301.6 L489.1,1301.9 L491.1,1302.1 L493.1,1302.3 L495.1,1302.5 L497.1,1302.7 L499.1,1302.8 L501.1,1302.9 L503.1,1303.1 L505.1,1303.2 L507.1,1303.3 L509.1,1303.5 L511.1,1303.7 L513.1,1303.9 L515.1,1304.1 L517.1,1304.3 L519.1,1304.7 L521.0,1305.0 L523.0,1305.4 L525.0,1305.8 L526.9,1306.2 L528.9,1306.6 L530.8,1307.1 L532.8,1307.6 L534.7,1308.1 L536.6,1308.7 L538.6,1309.2 L540.5,1309.8 L542.4,1310.3 L544.3,1310.9 L546.2,1311.5 L548.2,1312.0 L550.1,1312.6 L552.0,1313.2 L553.9,1313.8 L555.9,1314.3 L557.8,1314.9 L559.7,1315.4 L561.6,1315.9 L563.6,1316.4 L565.5,1316.9 L567.5,1317.4 L569.4,1317.9 L571.4,1318.3 L573.3,1318.7 L575.3,1319.1 L577.3,1319.4 L579.3,1319.7 L581.3,1319.9 L583.3,1320.2 L585.2,1320.4 L587.2,1320.5 L589.2,1320.6 L591.2,1320.7 L593.3,1320.8 L595.3,1320.8 L597.3,1320.8 L599.3,1320.8 L601.3,1320.8 L603.3,1320.8 L605.3,1320.7 L607.3,1320.6 L609.3,1320.5 L611.3,1320.4 L613.3,1320.3 L615.3,1320.2 L617.3,1320.0 L619.3,1319.9 L621.3,1319.8 L623.3,1319.6 L625.3,1319.5 L627.3,1319.3 L629.3,1319.2 L631.3,1319.1 L633.3,1318.9 L635.3,1318.8 L637.3,1318.7 L639.3,1318.6 L641.3,1318.5 L643.3,1318.4 L645.3,1318.3 L647.3,1318.3 L649.3,1318.3 L651.3,1318.2 L653.3,1318.2 L655.3,1318.3 L657.3,1318.3 L659.3,1318.3 L661.3,1318.4 L663.3,1318.5 L665.3,1318.6 L667.3,1318.7 L669.3,1318.8 L671.3,1318.9 L673.3,1319.0 L675.3,1319.2 L677.3,1319.3 L679.3,1319.4 L681.3,1319.6 L683.3,1319.8 L685.3,1319.9 L687.3,1320.1 L689.3,1320.3 L691.3,1320.5 L693.3,1320.7 L695.3,1320.8 L697.3,1321.0 L699.3,1321.2 L701.3,1321.4 L703.3,1321.6 L705.3,1321.8 L707.3,1322.0 L709.3,1322.2 L711.2,1322.3 L713.2,1322.5 L715.2,1322.7 L717.2,1322.8 L719.2,1323.0 L721.2,1323.2 L723.2,1323.3 L725.2,1323.4 L727.2,1323.6 L729.2,1323.7 L731.2,1323.8 L733.2,1323.9 L735.2,1324.0 L737.2,1324.0 L739.2,1324.1 L741.2,1324.2 L743.3,1324.2 L745.3,1324.2 L747.3,1324.2 L749.3,1324.2 L751.3,1324.2 L753.3,1324.1 L755.3,1324.1 L757.3,1324.0 L759.3,1323.9 L761.3,1323.7 L763.3,1323.6 L765.3,1323.4 L767.3,1323.2 L769.3,1323.0 L771.3,1322.8 L773.2,1322.5 L775.2,1322.3 L777.2,1322.0 L779.2,1321.6 L781.2,1321.3 L783.1,1321.0 L785.1,1320.6 L787.1,1320.2 L789.0,1319.8 L791.0,1319.5 L793.0,1319.1 L794.9,1318.7 L796.9,1318.3 L798.9,1317.9 L800.8,1317.5 L802.8,1317.2 L804.8,1316.8 L806.8,1316.5 L808.7,1316.1 L810.7,1315.8 L812.7,1315.5 L814.7,1315.2 L816.7,1315.0 L818.7,1314.8 L820.7,1314.6 L822.7,1314.4 L824.6,1314.3 L826.6,1314.1 L828.7,1314.1 L830.7,1314.0 L832.7,1314.0 L834.7,1314.0 L836.7,1314.0 L838.7,1314.0 L840.7,1314.1 L842.7,1314.2 L844.7,1314.3 L846.7,1314.4 L848.7,1314.6 L850.7,1314.8 L852.7,1315.0 L854.7,1315.2 L856.6,1315.4 L858.6,1315.7 L860.6,1316.0 L862.6,1316.3 L864.6,1316.6 L866.5,1317.0 L868.5,1317.3 L870.5,1317.7 L872.5,1318.1 L874.4,1318.5 L876.4,1318.9 L878.3,1319.3 L880.3,1319.8 L882.2,1320.3 L884.2,1320.7 L886.1,1321.2 L888.1,1321.7 L890.0,1322.2 L892.0,1322.7 L893.9,1323.2 L895.8,1323.7 L897.8,1324.2 L899.7,1324.8 L901.6,1325.3 L903.6,1325.8 L905.5,1326.3 L907.4,1326.9 L909.4,1327.4 L911.3,1327.9 L913.2,1328.4 L915.2,1329.0 L917.1,1329.5 L919.0,1330.0 L921.0,1330.5 L922.9,1331.0 L924.9,1331.5 L926.8,1331.9 L928.8,1332.4 L930.7,1332.9 L932.7,1333.3 L934.6,1333.8 L936.6,1334.2 L938.5,1334.6 L940.5,1335.0 L942.5,1335.4 L944.4,1335.8 L946.4,1336.2 L948.4,1336.5 L950.3,1336.9 L952.3,1337.3 L954.3,1337.7 L956.2,1338.0 L958.2,1338.4 L960.2,1338.8 L962.1,1339.2 L964.1,1339.6 L966.1,1340.0 L968.0,1340.4 L970.0,1340.8 L972.0,1341.3 L973.9,1341.7 L975.9,1342.2 L977.8,1342.6 L979.7,1343.1 L981.7,1343.6 L983.6,1344.2 L985.6,1344.7 L987.5,1345.2 L989.4,1345.8 L991.3,1346.3 L993.3,1346.9 L995.2,1347.4 L997.1,1347.9 L999.1,1348.5 L1001.0,1349.0 L1002.9,1349.5 L1004.9,1349.9 L1006.9,1350.4 L1008.8,1350.8 L1010.8,1351.2 L1012.7,1351.6 L1014.7,1351.9 L1016.7,1352.3 L1018.7,1352.6 L1020.6,1353.0 L1022.6,1353.3 L1024.6,1353.6 L1026.6,1353.8 L1028.6,1354.1 L1030.6,1354.4 L1032.5,1354.6 L1034.5,1354.9 L1036.5,1355.1 L1038.5,1355.3 L1040.5,1355.5 L1042.5,1355.7 L1044.5,1355.9 L1046.5,1356.1 L1048.5,1356.3 L1050.5,1356.5 L1052.5,1356.7 L1054.5,1356.9 L1056.5,1357.1 L1058.5,1357.3 L1060.5,1357.5 L1062.4,1357.7 L1064.4,1357.9 L1066.4,1358.1 L1068.4,1358.2 L1070.4,1358.4 L1072.4,1358.6 L1074.4,1358.8 L1076.4,1358.9 L1078.4,1359.1 L1080.4,1359.3 L1082.4,1359.4 L1084.4,1359.6 L1086.4,1359.8 L1088.4,1359.9 L1090.4,1360.1 L1092.4,1360.3 L1094.4,1360.4 L1096.4,1360.6 L1098.4,1360.7 L1100.4,1360.9 L1102.4,1361.0 L1104.4,1361.2 L1106.4,1361.3 L1108.4,1361.5 L1110.4,1361.6 L1112.4,1361.7 L1114.4,1361.9 L1116.4,1362.0 L1118.4,1362.1 L1120.4,1362.3 L1122.4,1362.4 L1124.4,1362.5 L1126.4,1362.7 L1128.4,1362.8 L1130.4,1362.9 L1132.4,1363.0 L1134.4,1363.2 L1136.4,1363.3 L1138.4,1363.4 L1140.4,1363.5 L1142.4,1363.6 L1144.4,1363.8 L1146.4,1363.9 L1148.4,1364.0 L1150.4,1364.1 L1152.4,1364.2 L1154.4,1364.3 L1156.4,1364.4 L1158.4,1364.5 L1160.4,1364.6 L1162.4,1364.7 L1164.4,1364.8 L1166.4,1364.9 L1168.4,1365.0 L1170.4,1365.1 L1172.4,1365.2 L1174.4,1365.3 L1176.4,1365.4 L1178.4,1365.5 L1180.4,1365.6 L1182.4,1365.6 L1184.4,1365.7 L1186.4,1365.8 L1188.4,1365.9 L1190.4,1366.0 L1192.4,1366.1 L1194.4,1366.1 L1196.4,1366.2 L1198.4,1366.3 L1200.4,1366.4 L1202.4,1366.4 L1204.4,1366.5 L1206.4,1366.6 L1208.4,1366.7 L1210.5,1366.7 L1212.5,1366.8 L1214.5,1366.9 L1216.5,1366.9 L1218.5,1367.0 L1220.5,1367.1 L1222.5,1367.1 L1224.5,1367.2 L1226.5,1367.2 L1228.5,1367.3 L1230.5,1367.4 L1232.5,1367.4 L1234.5,1367.5 L1236.5,1367.5 L1238.5,1367.6 L1240.5,1367.6 L1242.5,1367.7 L1244.5,1367.7 L1246.5,1367.8 L1248.5,1367.8 L1250.5,1367.9 L1252.5,1367.9 L1254.5,1368.0 L1256.5,1368.0 L1258.5,1368.1 L1260.5,1368.1 L1262.5,1368.2 L1264.5,1368.2 L1266.5,1368.2 L1268.5,1368.3 L1270.5,1368.3 L1272.6,1368.4 L1274.6,1368.4 L1276.6,1368.4 L1278.6,1368.5 L1280.6,1368.5 L1282.6,1368.5 L1284.6,1368.6 L1286.6,1368.6 L1288.6,1368.6 L1290.6,1368.7 L1292.6,1368.7 L1294.6,1368.7 L1296.6,1368.8 L1298.6,1368.8 L1300.6,1368.8 L1302.6,1368.8 L1304.6,1368.9 L1306.6,1368.9 L1308.6,1368.9 L1310.6,1368.9 L1312.6,1369.0 L1314.6,1369.0 L1316.6,1369.0 L1318.6,1369.0 L1320.6,1369.1 L1322.6,1369.1 L1324.7,1369.1 L1326.7,1369.1 L1328.7,1369.1 L1330.7,1369.2 L1332.7,1369.2 L1334.7,1369.2 L1336.7,1369.2 L1338.7,1369.2 L1340.7,1369.2 L1342.7,1369.3 L1344.7,1369.3 L1346.7,1369.3 L1348.7,1369.3 L1350.7,1369.3 L1352.7,1369.3 L1354.7,1369.3 L1356.7,1369.4 L1358.7,1369.4 L1360.7,1369.4 L1362.7,1369.4 L1364.7,1369.4 L1366.7,1369.4 L1368.7,1369.4 L1370.7,1369.4 L1372.7,1369.5 L1374.8,1369.5 L1376.8,1369.5 L1378.8,1369.5 L1380.8,1369.5 L1382.8,1369.5 L1384.8,1369.5 L1386.8,1369.5 L1388.8,1369.5 L1390.8,1369.5 L1392.8,1369.5 L1394.8,1369.6 L1396.8,1369.6 L1398.8,1369.6 L1400.8,1369.6 L1402.8,1369.6 L1404.8,1369.6 L1406.8,1369.6 L1408.8,1369.6 L1410.8,1369.6 L1412.8,1369.6 L1414.8,1369.6 L1416.8,1369.6 L1418.8,1369.6 L1420.8,1369.7 L1422.8,1369.7 L1424.9,1369.7 L1426.9,1369.7 L1428.9,1369.7 L1430.9,1369.7 L1432.9,1369.7 L1434.9,1369.7 L1436.9,1369.7 L1438.9,1369.7 L1440.9,1369.7 L1442.9,1369.7 L1444.9,1369.7 L1446.9,1369.7 L1448.9,1369.7 L1450.9,1369.7 L1452.9,1369.7 L1454.9,1369.7 L1456.9,1369.8 L1458.9,1369.8 L1460.9,1369.8 L1462.9,1369.8 L1464.9,1369.8 L1466.9,1369.8 L1468.9,1369.8 L1470.9,1369.8 L1473.0,1369.8 L1475.0,1369.8 L1477.0,1369.8 L1479.0,1369.8 L1481.0,1369.8 L1483.0,1369.8 L1485.0,1369.8 L1487.0,1369.8 L1489.0,1369.8 L1491.0,1369.8 L1493.0,1369.8 L1495.0,1369.8 L1497.0,1369.8 L1499.0,1369.8 L1501.0,1369.8 L1503.0,1369.8 L1505.0,1369.8 L1507.0,1369.8 L1509.0,1369.8 L1511.0,1369.8 L1513.0,1369.9 L1515.0,1369.9 L1517.0,1369.9 L1519.0,1369.9 L1521.0,1369.9 L1523.1,1369.9 L1525.1,1369.9 L1527.1,1369.9 L1529.1,1369.9 L1531.1,1369.9 L1533.1,1369.9 L1535.1,1369.9 L1537.1,1369.9 L1539.1,1369.9 L1541.1,1369.9 L1543.1,1369.9 L1545.1,1369.9 L1547.1,1369.9 L1549.1,1369.9 L1551.1,1369.9 L1553.1,1369.9 L1555.1,1369.9 L1557.1,1369.9 L1559.1,1369.9 L1561.1,1369.9 L1563.1,1369.9 L1565.1,1369.9 L1567.1,1369.9 L1569.1,1369.9 L1571.1,1369.9 L1573.2,1369.9 L1575.2,1369.9 L1577.2,1369.9 L1579.2,1369.9 L1581.2,1369.9 L1583.2,1369.9 L1585.2,1369.9 L1587.2,1369.9 L1589.2,1369.9 L1591.2,1369.9 L1593.2,1369.9 L1595.2,1369.9 L1597.2,1369.9 L1599.2,1369.9 L1601.2,1369.9 L1603.2,1369.9 L1605.2,1369.9 L1607.2,1369.9 L1609.2,1369.9 L1611.2,1369.9 L1613.2,1369.9 L1615.2,1369.9 L1617.2,1369.9 L1619.2,1369.9 L1621.2,1369.9 L1623.3,1369.9 L1625.3,1369.9 L1627.3,1369.9 L1629.3,1369.9 L1631.3,1369.9 L1633.3,1369.9 L1635.3,1369.9 L1637.3,1369.9 L1639.3,1369.9 L1641.3,1369.9 L1643.3,1369.9 L1645.3,1369.9 L1647.3,1369.9 L1649.3,1369.9 L1651.3,1369.9 L1653.3,1369.9 L1655.3,1369.9 L1657.3,1369.9 L1659.3,1369.9 L1661.3,1369.9 L1663.3,1369.8 L1665.3,1369.8 L1667.3,1369.8 L1669.3,1369.8 L1671.4,1369.8 L1673.4,1369.8 L1675.4,1369.8 L1677.4,1369.8 L1679.4,1369.8 L1681.4,1369.8 L1683.4,1369.8 L1685.4,1369.8 L1687.4,1369.8 L1689.4,1369.8 L1691.4,1369.8 L1693.4,1369.8 L1695.4,1369.8 L1697.4,1369.8 L1699.4,1369.8 L1701.4,1369.8 L1703.4,1369.8 L1705.4,1369.8 L1707.4,1369.8 L1709.4,1369.8 L1711.4,1369.8 L1713.4,1369.8 L1715.4,1369.8 L1717.4,1369.8 L1719.4,1369.8 L1721.5,1369.8 L1723.5,1369.8 L1725.5,1369.8 L1727.5,1369.8 L1729.5,1369.8 L1731.5,1369.8 L1733.5,1369.8 L1735.5,1369.8 L1737.5,1369.8 L1739.5,1369.8 L1741.5,1369.8 L1743.5,1369.8 L1745.5,1369.8 L1747.5,1369.8 L1749.5,1369.8 L1751.5,1369.8 L1753.5,1369.8 L1755.5,1369.8 L1757.5,1369.8 L1759.5,1369.8 L1761.5,1369.8 L1763.5,1369.8 L1765.5,1369.8 L1767.5,1369.7 L1769.5,1369.7 L1771.6,1369.7 L1773.6,1369.7 L1775.6,1369.7 L1777.6,1369.7 L1779.6,1369.7 L1781.6,1369.7 L1783.6,1369.7 L1785.6,1369.7 L1787.6,1369.7 L1789.6,1369.7 L1791.6,1369.7 L1793.6,1369.7 L1795.6,1369.7 L1797.6,1369.7 L1799.6,1369.7 L1801.6,1369.7 L1803.6,1369.7 L1805.6,1369.7 L1807.6,1369.7 L1809.6,1369.7 L1811.6,1369.7 L1813.6,1369.7 L1815.6,1369.7 L1817.6,1369.7 L1819.6,1369.7 L1821.7,1369.7 L1823.7,1369.7 L1825.7,1369.7 L1827.7,1369.7 L1829.7,1369.7 L1831.7,1369.7 L1833.7,1369.7 L1835.7,1369.7 L1837.7,1369.7 L1839.7,1369.7 L1841.7,1369.7 L1843.7,1369.7 L1845.7,1369.7 L1847.7,1369.7 L1849.7,1369.7 L1851.7,1369.7 L1853.7,1369.7 L1855.7,1369.7 L1857.7,1369.7 L1859.7,1369.7 L1861.7,1369.7 L1863.7,1369.7 L1865.7,1369.7 L1867.7,1369.7 L1869.8,1369.7 L1871.8,1369.7 L1873.8,1369.7 L1875.8,1369.7 L1877.8,1369.7 L1879.8,1369.7 L1881.8,1369.7 L1883.8,1369.7 L1885.8,1369.7 L1887.8,1369.7 L1889.8,1369.7 L1891.8,1369.7 L1893.8,1369.7 L1895.8,1369.7 L1897.8,1369.7 L1899.8,1369.7 L1901.8,1369.7 L1903.8,1369.7 L1905.8,1369.7 L1907.8,1369.7 L1909.8,1369.7 L1911.8,1369.7 L1913.8,1369.7 L1915.8,1369.7 L1917.8,1369.7 L1919.9,1369.7 L1921.9,1369.7 L1923.9,1369.7 L1925.9,1369.7 L1927.9,1369.7 L1929.9,1369.7 L1931.9,1369.7 L1933.9,1369.7 L1935.9,1369.7 L1937.9,1369.7 L1939.9,1369.7 L1941.9,1369.7 L1943.9,1369.7 L1945.9,1369.7 L1947.9,1369.7 L1949.9,1369.7 L1951.9,1369.7 L1953.9,1369.7 L1955.9,1369.7 L1957.9,1369.7 L1959.9,1369.7 L1961.9,1369.7 L1963.9,1369.8 L1965.9,1369.8 L1967.9,1369.8 L1970.0,1369.8 L1972.0,1369.8 L1974.0,1369.8 L1976.0,1369.8 L1978.0,1369.8 L1980.0,1369.8 L1982.0,1369.8 L1984.0,1369.8 L1986.0,1369.8 L1988.0,1369.8 L1990.0,1369.8 L1992.0,1369.8 L1994.0,1369.8" stroke="#A3A5A4"/>
<path d="M366.4,535.9 L367.9,534.6 L369.5,533.3 L371.0,532.0 L372.5,530.7 L374.0,529.4 L375.5,528.0 L377.0,526.7 L378.4,525.3 L379.9,523.9 L381.4,522.6 L382.8,521.2 L384.2,519.8 L385.6,518.3 L387.0,516.9 L388.4,515.5 L389.8,514.0 L391.2,512.6 L392.6,511.1 L393.9,509.6 L395.3,508.2 L396.6,506.7 L398.0,505.2 L399.3,503.7 L400.6,502.2 L401.9,500.7 L403.2,499.1 L404.5,497.6 L405.8,496.1 L407.1,494.6 L408.4,493.0 L409.7,491.5 L410.9,489.9 L412.2,488.4 L413.5,486.8 L414.7,485.3 L416.0,483.7 L417.2,482.2 L418.5,480.6 L419.7,479.0 L421.0,477.5 L422.2,475.9 L423.5,474.3 L424.7,472.7 L425.9,471.2 L427.2,469.6 L428.4,468.0 L429.7,466.4 L430.9,464.9 L432.1,463.3 L433.4,461.7 L434.6,460.1 L435.8,458.5 L437.1,457.0 L438.3,455.4 L439.5,453.8 L440.8,452.3 L442.0,450.7 L443.3,449.1 L444.5,447.6 L445.8,446.0 L447.1,444.4 L448.3,442.9 L449.6,441.3 L450.9,439.8 L452.1,438.2 L453.4,436.7 L454.7,435.2 L456.0,433.6 L457.3,432.1 L458.6,430.6 L459.9,429.1 L461.2,427.6 L462.6,426.1 L463.9,424.6 L465.2,423.1 L466.6,421.6 L467.9,420.2 L469.3,418.7 L470.7,417.2 L472.1,415.8 L473.5,414.3 L474.9,412.9 L476.3,411.5 L477.7,410.1 L479.1,408.7 L480.6,407.3 L482.0,405.9 L483.5,404.6 L485.0,403.2 L486.5,401.9 L488.0,400.5 L489.5,399.2 L491.0,397.9 L492.5,396.6 L494.1,395.4 L495.7,394.1 L497.2,392.9 L498.8,391.7 L500.4,390.4 L502.0,389.3 L503.6,388.1 L505.3,386.9 L506.9,385.8 L508.6,384.7 L510.3,383.6 L511.9,382.5 L513.6,381.4 L515.3,380.4 L517.1,379.3 L518.8,378.3 L520.5,377.3 L522.3,376.3 L524.0,375.4 L525.8,374.4 L527.6,373.5 L529.4,372.6 L531.2,371.7 L533.0,370.9 L534.8,370.0 L536.6,369.2 L538.5,368.4 L540.3,367.6 L542.1,366.9 L544.0,366.1 L545.9,365.4 L547.8,364.7 L549.6,364.0 L551.5,363.4 L553.4,362.7 L555.3,362.1 L557.2,361.5 L559.2,360.9 L561.1,360.4 L563.0,359.8 L564.9,359.3 L566.9,358.8 L568.8,358.4 L570.8,357.9 L572.7,357.5 L574.7,357.1 L576.7,356.7 L578.7,356.4 L580.6,356.0 L582.6,355.7 L584.6,355.5 L586.6,355.2 L588.6,354.9 L590.5,354.7 L592.5,354.5 L594.5,354.3 L596.5,354.1 L598.5,353.9 L600.5,353.8 L602.5,353.6 L604.5,353.5 L606.5,353.4 L608.5,353.3 L610.5,353.2 L612.5,353.1 L614.5,353.0 L616.5,352.9 L618.5,352.7 L620.5,352.6 L622.5,352.4 L624.5,352.3 L626.5,352.1 L628.5,351.9 L630.5,351.7 L632.5,351.4 L634.5,351.2 L636.4,350.9 L638.4,350.7 L640.4,350.4 L642.4,350.1 L644.4,349.7 L646.3,349.4 L648.3,349.1 L650.3,348.7 L652.3,348.4 L654.2,348.0 L656.2,347.7 L658.2,347.3 L660.1,346.9 L662.1,346.5 L664.1,346.1 L666.0,345.8 L668.0,345.4 L670.0,345.0 L671.9,344.6 L673.9,344.3 L675.9,343.9 L677.9,343.6 L679.8,343.2 L681.8,342.9 L683.8,342.6 L685.8,342.3 L687.8,342.0 L689.7,341.8 L691.7,341.6 L693.7,341.4 L695.7,341.2 L697.7,341.0 L699.7,340.9 L701.7,340.8 L703.7,340.7 L705.7,340.6 L707.7,340.6 L709.7,340.6 L711.7,340.6 L713.7,340.6 L715.7,340.7 L717.7,340.7 L719.7,340.8 L721.7,340.9 L723.7,341.0 L725.7,341.1 L727.7,341.3 L729.7,341.4 L731.7,341.5 L733.7,341.7 L735.7,341.8 L737.7,342.0 L739.7,342.2 L741.7,342.3 L743.7,342.5 L745.7,342.6 L747.7,342.8 L749.7,342.9 L751.7,343.1 L753.7,343.3 L755.7,343.5 L757.7,343.7 L759.7,343.9 L761.7,344.1 L763.6,344.3 L765.6,344.6 L767.6,344.9 L769.6,345.2 L771.6,345.5 L773.5,345.9 L775.5,346.3 L777.5,346.7 L779.4,347.2 L781.3,347.7 L783.3,348.3 L785.2,348.9 L787.1,349.5 L788.9,350.2 L790.8,351.0 L792.6,351.8 L794.4,352.6 L796.2,353.5 L798.0,354.5 L799.8,355.4 L801.5,356.5 L803.2,357.5 L804.9,358.6 L806.6,359.7 L808.2,360.8 L809.8,362.0 L811.5,363.1 L813.1,364.3 L814.7,365.6 L816.2,366.8 L817.8,368.1 L819.3,369.3 L820.9,370.6 L822.4,371.9 L823.9,373.2 L825.4,374.5 L827.0,375.8 L828.4,377.2 L829.9,378.5 L831.4,379.9 L832.9,381.2 L834.3,382.6 L835.8,384.0 L837.2,385.4 L838.6,386.8 L840.0,388.2 L841.5,389.6 L842.9,391.1 L844.2,392.5 L845.6,394.0 L847.0,395.4 L848.3,396.9 L849.7,398.4 L851.0,399.9 L852.4,401.4 L853.7,402.9 L855.0,404.4 L856.3,405.9 L857.6,407.5 L858.8,409.0 L860.1,410.6 L861.4,412.1 L862.6,413.7 L863.9,415.3 L865.1,416.8 L866.3,418.4 L867.5,420.0 L868.7,421.6 L869.9,423.2 L871.1,424.8 L872.3,426.5 L873.4,428.1 L874.6,429.7 L875.7,431.4 L876.9,433.0 L878.0,434.7 L879.1,436.3 L880.2,438.0 L881.3,439.7 L882.4,441.4 L883.5,443.1 L884.6,444.7 L885.6,446.4 L886.7,448.1 L887.7,449.8 L888.8,451.6 L889.8,453.3 L890.8,455.0 L891.8,456.7 L892.8,458.5 L893.8,460.2 L894.8,461.9 L895.8,463.7 L896.8,465.4 L897.7,467.2 L898.7,469.0 L899.7,470.7 L900.6,472.5 L901.5,474.3 L902.5,476.0 L903.4,477.8 L904.3,479.6 L905.2,481.4 L906.1,483.2 L907.0,485.0 L907.9,486.8 L908.8,488.6 L909.6,490.4 L910.5,492.2 L911.4,494.0 L912.2,495.8 L913.1,497.6 L913.9,499.4 L914.8,501.2 L915.6,503.1 L916.4,504.9 L917.2,506.7 L918.1,508.5 L918.9,510.4 L919.7,512.2 L920.5,514.0 L921.3,515.9 L922.1,517.7 L922.9,519.5 L923.7,521.4 L924.4,523.2 L925.2,525.1 L926.0,526.9 L926.8,528.8 L927.5,530.6 L928.3,532.5 L929.1,534.3 L929.8,536.2 L930.6,538.0 L931.3,539.9 L932.1,541.7 L932.8,543.6 L933.6,545.5 L934.3,547.3 L935.1,549.2 L935.8,551.0 L936.5,552.9 L937.3,554.8 L938.0,556.6 L938.7,558.5 L939.5,560.4 L940.2,562.2 L940.9,564.1 L941.6,566.0 L942.4,567.8 L943.1,569.7 L943.8,571.6 L944.5,573.4 L945.3,575.3 L946.0,577.2 L946.7,579.0 L947.4,580.9 L948.1,582.8 L948.8,584.6 L949.6,586.5 L950.3,588.4 L951.0,590.3 L951.7,592.1 L952.4,594.0 L953.1,595.9 L953.8,597.8 L954.5,599.6 L955.2,601.5 L955.9,603.4 L956.6,605.3 L957.3,607.1 L958.0,609.0 L958.7,610.9 L959.4,612.8 L960.1,614.6 L960.8,616.5 L961.5,618.4 L962.2,620.3 L962.9,622.2 L963.6,624.0 L964.3,625.9 L965.0,627.8 L965.6,629.7 L966.3,631.6 L967.0,633.4 L967.7,635.3 L968.4,637.2 L969.1,639.1 L969.7,641.0 L970.4,642.9 L971.1,644.7 L971.8,646.6 L972.5,648.5 L973.1,650.4 L973.8,652.3 L974.5,654.2 L975.2,656.1 L975.8,657.9 L976.5,659.8 L977.2,661.7 L977.8,663.6 L978.5,665.5 L979.2,667.4 L979.9,669.3 L980.5,671.2 L981.2,673.1 L981.8,674.9 L982.5,676.8 L983.2,678.7 L983.8,680.6 L984.5,682.5 L985.2,684.4 L985.8,686.3 L986.5,688.2 L987.1,690.1 L987.8,692.0 L988.5,693.8 L989.1,695.7 L989.8,697.6 L990.4,699.5 L991.1,701.4 L991.7,703.3 L992.4,705.2 L993.0,707.1 L993.7,709.0 L994.3,710.9 L995.0,712.8 L995.6,714.7 L996.3,716.6 L996.9,718.5 L997.6,720.4 L998.2,722.3 L998.9,724.2 L999.5,726.1 L1000.2,727.9 L1000.8,729.8 L1001.4,731.7 L1002.1,733.6 L1002.7,735.5 L1003.4,737.4 L1004.0,739.3 L1004.7,741.2 L1005.3,743.1 L1005.9,745.0 L1006.6,746.9 L1007.2,748.8 L1007.9,750.7 L1008.5,752.6 L1009.1,754.5 L1009.8,756.4 L1010.4,758.3 L1011.0,760.2 L1011.7,762.1 L1012.3,764.0 L1012.9,765.9 L1013.6,767.8 L1014.2,769.7 L1014.8,771.6 L1015.5,773.5 L1016.1,775.4 L1016.7,777.3 L1017.4,779.2 L1018.0,781.1 L1018.6,783.0 L1019.3,784.9 L1019.9,786.8 L1020.5,788.7 L1021.1,790.6 L1021.8,792.5 L1022.4,794.4 L1023.0,796.3 L1023.7,798.2 L1024.3,800.1 L1024.9,802.0 L1025.5,803.9 L1026.2,805.8 L1026.8,807.7 L1027.4,809.6 L1028.1,811.5 L1028.7,813.4 L1029.3,815.3 L1029.9,817.3 L1030.6,819.2 L1031.2,821.1 L1031.8,823.0 L1032.4,824.9 L1033.1,826.8 L1033.7,828.7 L1034.3,830.6 L1034.9,832.5 L1035.5,834.4 L1036.2,836.3 L1036.8,838.2 L1037.4,840.1 L1038.0,842.0 L1038.7,843.9 L1039.3,845.8 L1039.9,847.7 L1040.5,849.6 L1041.2,851.5 L1041.8,853.4 L1042.4,855.3 L1043.0,857.2 L1043.6,859.1 L1044.3,861.0 L1044.9,862.9 L1045.5,864.8 L1046.1,866.7 L1046.8,868.6 L1047.4,870.5 L1048.0,872.5 L1048.6,874.4 L1049.2,876.3 L1049.9,878.2 L1050.5,880.1 L1051.1,882.0 L1051.7,883.9 L1052.4,885.8 L1053.0,887.7 L1053.6,889.6 L1054.2,891.5 L1054.9,893.4 L1055.5,895.3 L1056.1,897.2 L1056.7,899.1 L1057.4,901.0 L1058.0,902.9 L1058.6,904.8 L1059.2,906.7 L1059.8,908.6 L1060.5,910.5 L1061.1,912.4 L1061.7,914.3 L1062.3,916.2 L1063.0,918.1 L1063.6,920.0 L1064.2,921.9 L1064.9,923.8 L1065.5,925.7 L1066.1,927.6 L1066.7,929.5 L1067.4,931.4 L1068.0,933.3 L1068.6,935.3 L1069.2,937.2 L1069.9,939.1 L1070.5,941.0 L1071.1,942.9 L1071.8,944.8 L1072.4,946.7 L1073.0,948.6 L1073.7,950.5 L1074.3,952.4 L1074.9,954.3 L1075.6,956.2 L1076.2,958.1 L1076.9,960.0 L1077.5,961.9 L1078.1,963.7 L1078.8,965.6 L1079.4,967.5 L1080.1,969.4 L1080.7,971.3 L1081.3,973.2 L1082.0,975.1 L1082.6,977.0 L1083.3,978.9 L1083.9,980.8 L1084.6,982.7 L1085.2,984.6 L1085.9,986.5 L1086.5,988.4 L1087.2,990.3 L1087.8,992.2 L1088.5,994.1 L1089.2,996.0 L1089.8,997.9 L1090.5,999.7 L1091.2,1001.6 L1091.8,1003.5 L1092.5,1005.4 L1093.2,1007.3 L1093.8,1009.2 L1094.5,1011.1 L1095.2,1013.0 L1095.8,1014.8 L1096.5,1016.7 L1097.2,1018.6 L1097.9,1020.5 L1098.6,1022.4 L1099.2,1024.3 L1099.9,1026.1 L1100.6,1028.0 L1101.3,1029.9 L1102.0,1031.8 L1102.7,1033.7 L1103.4,1035.5 L1104.1,1037.4 L1104.8,1039.3 L1105.5,1041.2 L1106.2,1043.1 L1106.9,1044.9 L1107.6,1046.8 L1108.3,1048.7 L1109.0,1050.5 L1109.7,1052.4 L1110.4,1054.3 L1111.2,1056.2 L1111.9,1058.0 L1112.6,1059.9 L1113.3,1061.8 L1114.0,1063.6 L1114.8,1065.5 L1115.5,1067.4 L1116.2,1069.2 L1117.0,1071.1 L1117.7,1072.9 L1118.5,1074.8 L1119.2,1076.7 L1120.0,1078.5 L1120.7,1080.4 L1121.5,1082.2 L1122.2,1084.1 L1123.0,1085.9 L1123.7,1087.8 L1124.5,1089.7 L1125.3,1091.5 L1126.0,1093.4 L1126.8,1095.2 L1127.6,1097.0 L1128.3,1098.9 L1129.1,1100.7 L1129.9,1102.6 L1130.7,1104.4 L1131.5,1106.3 L1132.3,1108.1 L1133.1,1109.9 L1133.9,1111.8 L1134.7,1113.6 L1135.5,1115.5 L1136.3,1117.3 L1137.1,1119.1 L1137.9,1120.9 L1138.7,1122.8 L1139.6,1124.6 L1140.4,1126.4 L1141.2,1128.2 L1142.0,1130.1 L1142.9,1131.9 L1143.7,1133.7 L1144.6,1135.5 L1145.4,1137.3 L1146.3,1139.1 L1147.1,1141.0 L1148.0,1142.8 L1148.9,1144.6 L1149.7,1146.4 L1150.6,1148.2 L1151.5,1150.0 L1152.4,1151.8 L1153.3,1153.6 L1154.2,1155.4 L1155.1,1157.1 L1156.0,1158.9 L1156.9,1160.7 L1157.8,1162.5 L1158.7,1164.3 L1159.6,1166.1 L1160.6,1167.8 L1161.5,1169.6 L1162.4,1171.4 L1163.4,1173.1 L1164.3,1174.9 L1165.3,1176.7 L1166.3,1178.4 L1167.2,1180.2 L1168.2,1181.9 L1169.2,1183.7 L1170.2,1185.4 L1171.2,1187.1 L1172.1,1188.9 L1173.2,1190.6 L1174.2,1192.3 L1175.2,1194.1 L1176.2,1195.8 L1177.2,1197.5 L1178.3,1199.2 L1179.3,1200.9 L1180.3,1202.7 L1181.4,1204.4 L1182.5,1206.1 L1183.5,1207.8 L1184.6,1209.4 L1185.7,1211.1 L1186.8,1212.8 L1187.9,1214.5 L1188.9,1216.2 L1190.1,1217.8 L1191.2,1219.5 L1192.3,1221.2 L1193.4,1222.8 L1194.5,1224.5 L1195.7,1226.1 L1196.8,1227.8 L1198.0,1229.4 L1199.2,1231.0 L1200.3,1232.7 L1201.5,1234.3 L1202.7,1235.9 L1203.9,1237.5 L1205.1,1239.1 L1206.3,1240.7 L1207.5,1242.3 L1208.7,1243.9 L1209.9,1245.5 L1211.2,1247.0 L1212.4,1248.6 L1213.7,1250.2 L1214.9,1251.7 L1216.2,1253.3 L1217.5,1254.8 L1218.7,1256.4 L1220.0,1257.9 L1221.3,1259.4 L1222.6,1261.0 L1224.0,1262.5 L1225.3,1264.0 L1226.6,1265.5 L1227.9,1267.0 L1229.3,1268.4 L1230.6,1269.9 L1232.0,1271.4 L1233.4,1272.9 L1234.7,1274.3 L1236.1,1275.8 L1237.5,1277.2 L1238.9,1278.6 L1240.3,1280.0 L1241.7,1281.5 L1243.2,1282.9 L1244.6,1284.3 L1246.1,1285.7 L1247.5,1287.0 L1249.0,1288.4 L1250.4,1289.8 L1251.9,1291.1 L1253.4,1292.5 L1254.9,1293.8 L1256.4,1295.1 L1257.9,1296.4 L1259.4,1297.7 L1261.0,1299.0 L1262.5,1300.3 L1264.1,1301.6 L1265.6,1302.8 L1267.2,1304.1 L1268.8,1305.3 L1270.4,1306.5 L1271.9,1307.7 L1273.5,1308.9 L1275.2,1310.1 L1276.8,1311.3 L1278.4,1312.5 L1280.1,1313.6 L1281.7,1314.8 L1283.4,1315.9 L1285.0,1317.0 L1286.7,1318.1 L1288.4,1319.2 L1290.1,1320.2 L1291.8,1321.3 L1293.5,1322.3 L1295.2,1323.4 L1296.9,1324.4 L1298.7,1325.4 L1300.4,1326.4 L1302.2,1327.3 L1303.9,1328.3 L1305.7,1329.2 L1307.5,1330.1 L1309.3,1331.0 L1311.1,1331.9 L1312.9,1332.8 L1314.7,1333.6 L1316.5,1334.5 L1318.3,1335.3 L1320.2,1336.1 L1322.0,1336.9 L1323.9,1337.6 L1325.7,1338.4 L1327.6,1339.1 L1329.5,1339.9 L1331.3,1340.6 L1333.2,1341.2 L1335.1,1341.9 L1337.0,1342.6 L1338.9,1343.2 L1340.8,1343.8 L1342.7,1344.5 L1344.6,1345.1 L1346.5,1345.6 L1348.4,1346.2 L1350.4,1346.7 L1352.3,1347.3 L1354.2,1347.8 L1356.2,1348.3 L1358.1,1348.8 L1360.1,1349.3 L1362.0,1349.8 L1364.0,1350.2 L1365.9,1350.7 L1367.9,1351.1 L1369.8,1351.5 L1371.8,1351.9 L1373.8,1352.3 L1375.7,1352.6 L1377.7,1353.0 L1379.7,1353.4 L1381.6,1353.7 L1383.6,1354.0 L1385.6,1354.3 L1387.6,1354.6 L1389.6,1354.9 L1391.5,1355.2 L1393.5,1355.5 L1395.5,1355.8 L1397.5,1356.0 L1399.5,1356.3 L1401.5,1356.5 L1403.5,1356.7 L1405.4,1357.0 L1407.4,1357.2 L1409.4,1357.4 L1411.4,1357.6 L1413.4,1357.8 L1415.4,1358.0 L1417.4,1358.1 L1419.4,1358.3 L1421.4,1358.5 L1423.4,1358.7 L1425.4,1358.8 L1427.4,1359.0 L1429.4,1359.1 L1431.4,1359.3 L1433.4,1359.4 L1435.4,1359.5 L1437.4,1359.7 L1439.4,1359.8 L1441.4,1359.9 L1443.4,1360.1 L1445.4,1360.2 L1447.4,1360.3 L1449.4,1360.4 L1451.4,1360.5 L1453.4,1360.7 L1455.4,1360.8 L1457.4,1360.9 L1459.4,1361.0 L1461.4,1361.1 L1463.4,1361.2 L1465.4,1361.3 L1467.4,1361.5 L1469.4,1361.6 L1471.4,1361.7 L1473.4,1361.8 L1475.4,1361.9 L1477.4,1362.0 L1479.4,1362.1 L1481.4,1362.2 L1483.4,1362.3 L1485.4,1362.4 L1487.4,1362.5 L1489.4,1362.6 L1491.4,1362.7 L1493.4,1362.8 L1495.4,1362.9 L1497.4,1363.0 L1499.4,1363.1 L1501.4,1363.2 L1503.4,1363.3 L1505.4,1363.4 L1507.4,1363.4 L1509.4,1363.5 L1511.4,1363.6 L1513.4,1363.7 L1515.4,1363.8 L1517.4,1363.9 L1519.4,1364.0 L1521.4,1364.0 L1523.4,1364.1 L1525.4,1364.2 L1527.4,1364.3 L1529.4,1364.4 L1531.4,1364.4 L1533.4,1364.5 L1535.4,1364.6 L1537.4,1364.7 L1539.4,1364.8 L1541.4,1364.8 L1543.4,1364.9 L1545.4,1365.0 L1547.4,1365.0 L1549.4,1365.1 L1551.4,1365.2 L1553.4,1365.3 L1555.4,1365.3 L1557.4,1365.4 L1559.4,1365.5 L1561.4,1365.5 L1563.4,1365.6 L1565.4,1365.7 L1567.4,1365.7 L1569.4,1365.8 L1571.4,1365.8 L1573.4,1365.9 L1575.4,1366.0 L1577.4,1366.0 L1579.4,1366.1 L1581.4,1366.1 L1583.4,1366.2 L1585.4,1366.2 L1587.4,1366.3 L1589.4,1366.4 L1591.4,1366.4 L1593.4,1366.5 L1595.4,1366.5 L1597.5,1366.6 L1599.5,1366.6 L1601.5,1366.7 L1603.5,1366.7 L1605.5,1366.8 L1607.5,1366.8 L1609.5,1366.9 L1611.5,1366.9 L1613.5,1367.0 L1615.5,1367.0 L1617.5,1367.1 L1619.5,1367.1 L1621.5,1367.1 L1623.5,1367.2 L1625.5,1367.2 L1627.5,1367.3 L1629.5,1367.3 L1631.5,1367.3 L1633.5,1367.4 L1635.5,1367.4 L1637.5,1367.5 L1639.5,1367.5 L1641.5,1367.5 L1643.5,1367.6 L1645.5,1367.6 L1647.5,1367.6 L1649.5,1367.7 L1651.5,1367.7 L1653.5,1367.7 L1655.5,1367.8 L1657.5,1367.8 L1659.5,1367.8 L1661.5,1367.9 L1663.5,1367.9 L1665.5,1367.9 L1667.5,1368.0 L1669.5,1368.0 L1671.5,1368.0 L1673.5,1368.1 L1675.5,1368.1 L1677.6,1368.1 L1679.6,1368.1 L1681.6,1368.2 L1683.6,1368.2 L1685.6,1368.2 L1687.6,1368.2 L1689.6,1368.3 L1691.6,1368.3 L1693.6,1368.3 L1695.6,1368.3 L1697.6,1368.4 L1699.6,1368.4 L1701.6,1368.4 L1703.6,1368.4 L1705.6,1368.4 L1707.6,1368.5 L1709.6,1368.5 L1711.6,1368.5 L1713.6,1368.5 L1715.6,1368.5 L1717.6,1368.6 L1719.6,1368.6 L1721.6,1368.6 L1723.6,1368.6 L1725.6,1368.6 L1727.6,1368.6 L1729.6,1368.7 L1731.6,1368.7 L1733.6,1368.7 L1735.6,1368.7 L1737.6,1368.7 L1739.6,1368.7 L1741.6,1368.7 L1743.6,1368.8 L1745.6,1368.8 L1747.7,1368.8 L1749.7,1368.8 L1751.7,1368.8 L1753.7,1368.8 L1755.7,1368.8 L1757.7,1368.8 L1759.7,1368.9 L1761.7,1368.9 L1763.7,1368.9 L1765.7,1368.9 L1767.7,1368.9 L1769.7,1368.9 L1771.7,1368.9 L1773.7,1368.9 L1775.7,1368.9 L1777.7,1368.9 L1779.7,1368.9 L1781.7,1369.0 L1783.7,1369.0 L1785.7,1369.0 L1787.7,1369.0 L1789.7,1369.0 L1791.7,1369.0 L1793.7,1369.0 L1795.7,1369.0 L1797.7,1369.0 L1799.7,1369.0 L1801.7,1369.0 L1803.7,1369.0 L1805.7,1369.0 L1807.7,1369.0 L1809.7,1369.0 L1811.7,1369.1 L1813.7,1369.1 L1815.7,1369.1 L1817.8,1369.1 L1819.8,1369.1 L1821.8,1369.1 L1823.8,1369.1 L1825.8,1369.1 L1827.8,1369.1 L1829.8,1369.1 L1831.8,1369.1 L1833.8,1369.1 L1835.8,1369.1 L1837.8,1369.1 L1839.8,1369.1 L1841.8,1369.1 L1843.8,1369.1 L1845.8,1369.1 L1847.8,1369.1 L1849.8,1369.1 L1851.8,1369.1 L1853.8,1369.1 L1855.8,1369.1 L1857.8,1369.2 L1859.8,1369.2 L1861.8,1369.2 L1863.8,1369.2 L1865.8,1369.2 L1867.8,1369.2 L1869.8,1369.2 L1871.8,1369.2 L1873.8,1369.2 L1875.8,1369.2 L1877.8,1369.2 L1879.8,1369.2 L1881.8,1369.2 L1883.8,1369.2 L1885.8,1369.2 L1887.9,1369.2 L1889.9,1369.2 L1891.9,1369.2 L1893.9,1369.2 L1895.9,1369.2 L1897.9,1369.2 L1899.9,1369.2 L1901.9,1369.2 L1903.9,1369.2 L1905.9,1369.2 L1907.9,1369.3 L1909.9,1369.3 L1911.9,1369.3 L1913.9,1369.3 L1915.9,1369.3 L1917.9,1369.3 L1919.9,1369.3 L1921.9,1369.3 L1923.9,1369.3 L1925.9,1369.3 L1927.9,1369.3 L1929.9,1369.3 L1931.9,1369.3 L1933.9,1369.3 L1935.9,1369.3 L1937.9,1369.3 L1939.9,1369.4 L1941.9,1369.4 L1943.9,1369.4 L1945.9,1369.4 L1947.9,1369.4 L1949.9,1369.4 L1951.9,1369.4 L1953.9,1369.4 L1956.0,1369.4 L1958.0,1369.4 L1960.0,1369.4 L1962.0,1369.4 L1964.0,1369.5 L1966.0,1369.5 L1968.0,1369.5 L1970.0,1369.5 L1972.0,1369.5 L1974.0,1369.5 L1976.0,1369.5 L1978.0,1369.5 L1980.0,1369.6 L1982.0,1369.6 L1984.0,1369.6 L1986.0,1369.6 L1988.0,1369.6 L1990.0,1369.6 L1992.0,1369.6 L1994.0,1369.7" stroke="#FCBF12"/>
<path d="M366.5,647.9 L367.8,646.4 L369.1,644.9 L370.4,643.4 L371.7,641.9 L373.0,640.3 L374.3,638.8 L375.6,637.3 L376.8,635.7 L378.1,634.1 L379.3,632.6 L380.5,631.0 L381.8,629.4 L383.0,627.8 L384.2,626.2 L385.4,624.6 L386.6,623.0 L387.8,621.4 L388.9,619.8 L390.1,618.1 L391.3,616.5 L392.4,614.9 L393.6,613.2 L394.8,611.6 L395.9,610.0 L397.0,608.3 L398.2,606.7 L399.3,605.0 L400.4,603.4 L401.6,601.7 L402.7,600.1 L403.8,598.4 L404.9,596.8 L406.1,595.1 L407.2,593.4 L408.3,591.8 L409.4,590.1 L410.5,588.4 L411.6,586.8 L412.7,585.1 L413.9,583.4 L415.0,581.8 L416.1,580.1 L417.2,578.4 L418.3,576.8 L419.4,575.1 L420.5,573.5 L421.6,571.8 L422.8,570.1 L423.9,568.5 L425.0,566.8 L426.1,565.2 L427.3,563.5 L428.4,561.8 L429.5,560.2 L430.7,558.5 L431.8,556.9 L432.9,555.3 L434.1,553.6 L435.3,552.0 L436.4,550.3 L437.6,548.7 L438.7,547.1 L439.9,545.5 L441.1,543.9 L442.3,542.2 L443.5,540.6 L444.7,539.0 L445.9,537.4 L447.1,535.8 L448.3,534.3 L449.5,532.7 L450.8,531.1 L452.0,529.5 L453.3,528.0 L454.5,526.4 L455.8,524.9 L457.1,523.3 L458.4,521.8 L459.7,520.3 L461.0,518.8 L462.3,517.2 L463.6,515.7 L465.0,514.3 L466.3,512.8 L467.7,511.3 L469.1,509.9 L470.4,508.4 L471.8,507.0 L473.2,505.5 L474.7,504.1 L476.1,502.7 L477.5,501.3 L479.0,500.0 L480.5,498.6 L481.9,497.3 L483.4,495.9 L484.9,494.6 L486.5,493.3 L488.0,492.0 L489.5,490.7 L491.1,489.5 L492.7,488.2 L494.2,487.0 L495.8,485.8 L497.5,484.6 L499.1,483.5 L500.7,482.3 L502.4,481.2 L504.0,480.1 L505.7,479.0 L507.4,477.9 L509.1,476.8 L510.8,475.8 L512.6,474.8 L514.3,473.8 L516.1,472.9 L517.8,471.9 L519.6,471.0 L521.4,470.1 L523.2,469.2 L525.0,468.4 L526.8,467.5 L528.7,466.7 L530.5,465.9 L532.4,465.2 L534.2,464.5 L536.1,463.8 L538.0,463.1 L539.9,462.4 L541.8,461.8 L543.7,461.2 L545.6,460.6 L547.5,460.1 L549.5,459.5 L551.4,459.0 L553.3,458.5 L555.3,458.1 L557.2,457.6 L559.2,457.2 L561.1,456.7 L563.1,456.3 L565.0,455.8 L567.0,455.4 L568.9,454.9 L570.9,454.5 L572.8,454.0 L574.8,453.5 L576.7,453.0 L578.7,452.5 L580.6,452.0 L582.5,451.5 L584.4,450.9 L586.4,450.3 L588.3,449.7 L590.2,449.2 L592.1,448.5 L594.0,447.9 L595.9,447.3 L597.8,446.7 L599.7,446.1 L601.6,445.4 L603.5,444.8 L605.4,444.2 L607.3,443.5 L609.2,442.9 L611.1,442.3 L613.0,441.6 L614.9,441.0 L616.8,440.4 L618.7,439.8 L620.6,439.2 L622.6,438.6 L624.5,438.0 L626.4,437.4 L628.3,436.8 L630.2,436.3 L632.1,435.7 L634.1,435.2 L636.0,434.6 L637.9,434.1 L639.9,433.6 L641.8,433.0 L643.7,432.5 L645.7,432.0 L647.6,431.5 L649.5,431.0 L651.5,430.6 L653.4,430.1 L655.4,429.6 L657.3,429.2 L659.3,428.7 L661.2,428.3 L663.2,427.8 L665.1,427.4 L667.1,427.0 L669.1,426.5 L671.0,426.1 L673.0,425.7 L674.9,425.3 L676.9,424.9 L678.9,424.5 L680.8,424.1 L682.8,423.7 L684.7,423.3 L686.7,422.9 L688.7,422.5 L690.6,422.1 L692.6,421.8 L694.6,421.4 L696.5,421.0 L698.5,420.6 L700.5,420.3 L702.4,419.9 L704.4,419.5 L706.4,419.1 L708.3,418.8 L710.3,418.4 L712.3,418.0 L714.2,417.7 L716.2,417.3 L718.2,416.9 L720.1,416.5 L722.1,416.2 L724.1,415.8 L726.0,415.4 L728.0,415.0 L730.0,414.6 L731.9,414.2 L733.9,413.9 L735.9,413.5 L737.8,413.1 L739.8,412.7 L741.8,412.3 L743.7,411.8 L745.7,411.4 L747.6,411.0 L749.6,410.6 L751.5,410.2 L753.5,409.8 L755.5,409.4 L757.4,409.0 L759.4,408.6 L761.4,408.2 L763.3,407.8 L765.3,407.4 L767.3,407.1 L769.2,406.8 L771.2,406.4 L773.2,406.2 L775.2,405.9 L777.2,405.6 L779.2,405.4 L781.2,405.2 L783.1,405.1 L785.1,405.0 L787.1,404.9 L789.1,404.8 L791.2,404.8 L793.2,404.8 L795.2,404.9 L797.2,405.0 L799.2,405.2 L801.1,405.4 L803.1,405.6 L805.1,405.8 L807.1,406.2 L809.1,406.5 L811.0,406.9 L813.0,407.3 L814.9,407.8 L816.9,408.3 L818.8,408.8 L820.7,409.4 L822.6,410.0 L824.5,410.6 L826.4,411.3 L828.3,412.0 L830.1,412.8 L832.0,413.6 L833.8,414.4 L835.6,415.2 L837.4,416.1 L839.2,417.0 L841.0,418.0 L842.7,418.9 L844.5,419.9 L846.2,420.9 L847.9,422.0 L849.6,423.1 L851.3,424.2 L852.9,425.3 L854.6,426.4 L856.2,427.6 L857.8,428.8 L859.4,430.0 L861.0,431.2 L862.5,432.5 L864.1,433.8 L865.6,435.1 L867.1,436.4 L868.6,437.7 L870.1,439.0 L871.6,440.4 L873.0,441.8 L874.5,443.1 L875.9,444.5 L877.3,446.0 L878.8,447.4 L880.2,448.8 L881.6,450.2 L882.9,451.7 L884.3,453.1 L885.7,454.6 L887.0,456.1 L888.4,457.5 L889.7,459.0 L891.1,460.5 L892.4,462.0 L893.7,463.5 L895.0,465.1 L896.3,466.6 L897.6,468.1 L898.9,469.7 L900.1,471.2 L901.4,472.8 L902.6,474.3 L903.9,475.9 L905.1,477.5 L906.3,479.1 L907.5,480.7 L908.7,482.3 L909.9,483.9 L911.1,485.5 L912.3,487.1 L913.5,488.7 L914.6,490.4 L915.8,492.0 L916.9,493.6 L918.1,495.3 L919.2,496.9 L920.3,498.6 L921.4,500.3 L922.6,501.9 L923.7,503.6 L924.8,505.3 L925.8,507.0 L926.9,508.6 L928.0,510.3 L929.0,512.0 L930.1,513.7 L931.2,515.4 L932.2,517.2 L933.2,518.9 L934.3,520.6 L935.3,522.3 L936.3,524.0 L937.3,525.8 L938.3,527.5 L939.3,529.2 L940.3,531.0 L941.3,532.7 L942.3,534.5 L943.2,536.2 L944.2,538.0 L945.2,539.7 L946.1,541.5 L947.1,543.2 L948.0,545.0 L948.9,546.8 L949.9,548.6 L950.8,550.3 L951.7,552.1 L952.6,553.9 L953.6,555.7 L954.5,557.5 L955.4,559.2 L956.3,561.0 L957.2,562.8 L958.0,564.6 L958.9,566.4 L959.8,568.2 L960.7,570.0 L961.5,571.8 L962.4,573.6 L963.3,575.4 L964.1,577.2 L965.0,579.0 L965.8,580.9 L966.7,582.7 L967.5,584.5 L968.4,586.3 L969.2,588.1 L970.0,589.9 L970.9,591.8 L971.7,593.6 L972.5,595.4 L973.3,597.2 L974.2,599.1 L975.0,600.9 L975.8,602.7 L976.6,604.6 L977.4,606.4 L978.2,608.2 L979.0,610.1 L979.8,611.9 L980.6,613.7 L981.4,615.6 L982.2,617.4 L983.0,619.3 L983.8,621.1 L984.6,622.9 L985.3,624.8 L986.1,626.6 L986.9,628.5 L987.7,630.3 L988.4,632.2 L989.2,634.0 L990.0,635.9 L990.7,637.7 L991.5,639.6 L992.3,641.4 L993.0,643.3 L993.8,645.1 L994.5,647.0 L995.3,648.8 L996.0,650.7 L996.8,652.6 L997.5,654.4 L998.3,656.3 L999.0,658.1 L999.7,660.0 L1000.5,661.9 L1001.2,663.7 L1001.9,665.6 L1002.7,667.4 L1003.4,669.3 L1004.1,671.2 L1004.9,673.0 L1005.6,674.9 L1006.3,676.8 L1007.0,678.7 L1007.7,680.5 L1008.4,682.4 L1009.2,684.3 L1009.9,686.1 L1010.6,688.0 L1011.3,689.9 L1012.0,691.8 L1012.7,693.6 L1013.4,695.5 L1014.1,697.4 L1014.8,699.3 L1015.5,701.1 L1016.2,703.0 L1016.9,704.9 L1017.6,706.8 L1018.3,708.7 L1018.9,710.5 L1019.6,712.4 L1020.3,714.3 L1021.0,716.2 L1021.7,718.1 L1022.4,719.9 L1023.0,721.8 L1023.7,723.7 L1024.4,725.6 L1025.1,727.5 L1025.8,729.4 L1026.4,731.2 L1027.1,733.1 L1027.8,735.0 L1028.4,736.9 L1029.1,738.8 L1029.8,740.7 L1030.4,742.6 L1031.1,744.5 L1031.8,746.4 L1032.4,748.2 L1033.1,750.1 L1033.7,752.0 L1034.4,753.9 L1035.1,755.8 L1035.7,757.7 L1036.4,759.6 L1037.0,761.5 L1037.7,763.4 L1038.3,765.3 L1039.0,767.2 L1039.6,769.1 L1040.3,770.9 L1040.9,772.8 L1041.6,774.7 L1042.2,776.6 L1042.9,778.5 L1043.5,780.4 L1044.2,782.3 L1044.8,784.2 L1045.5,786.1 L1046.1,788.0 L1046.7,789.9 L1047.4,791.8 L1048.0,793.7 L1048.7,795.6 L1049.3,797.5 L1050.0,799.4 L1050.6,801.3 L1051.2,803.2 L1051.9,805.1 L1052.5,807.0 L1053.1,808.9 L1053.8,810.8 L1054.4,812.7 L1055.1,814.6 L1055.7,816.5 L1056.3,818.4 L1057.0,820.3 L1057.6,822.2 L1058.2,824.1 L1058.9,826.0 L1059.5,827.9 L1060.1,829.8 L1060.8,831.7 L1061.4,833.6 L1062.0,835.5 L1062.7,837.4 L1063.3,839.3 L1064.0,841.2 L1064.6,843.1 L1065.2,845.0 L1065.9,846.9 L1066.5,848.8 L1067.1,850.6 L1067.8,852.5 L1068.4,854.4 L1069.0,856.3 L1069.7,858.2 L1070.3,860.1 L1070.9,862.0 L1071.6,863.9 L1072.2,865.8 L1072.8,867.7 L1073.5,869.6 L1074.1,871.5 L1074.8,873.4 L1075.4,875.3 L1076.0,877.2 L1076.7,879.1 L1077.3,881.0 L1078.0,882.9 L1078.6,884.8 L1079.2,886.7 L1079.9,888.6 L1080.5,890.5 L1081.2,892.4 L1081.8,894.3 L1082.4,896.2 L1083.1,898.1 L1083.7,900.0 L1084.4,901.9 L1085.0,903.8 L1085.7,905.7 L1086.3,907.6 L1087.0,909.5 L1087.6,911.4 L1088.3,913.3 L1088.9,915.1 L1089.6,917.0 L1090.2,918.9 L1090.9,920.8 L1091.5,922.7 L1092.2,924.6 L1092.9,926.5 L1093.5,928.4 L1094.2,930.3 L1094.8,932.2 L1095.5,934.1 L1096.2,935.9 L1096.8,937.8 L1097.5,939.7 L1098.2,941.6 L1098.8,943.5 L1099.5,945.4 L1100.2,947.3 L1100.8,949.2 L1101.5,951.0 L1102.2,952.9 L1102.9,954.8 L1103.5,956.7 L1104.2,958.6 L1104.9,960.5 L1105.6,962.4 L1106.2,964.2 L1106.9,966.1 L1107.6,968.0 L1108.3,969.9 L1109.0,971.8 L1109.7,973.6 L1110.4,975.5 L1111.1,977.4 L1111.7,979.3 L1112.4,981.2 L1113.1,983.0 L1113.8,984.9 L1114.5,986.8 L1115.2,988.7 L1115.9,990.5 L1116.6,992.4 L1117.3,994.3 L1118.0,996.2 L1118.7,998.0 L1119.5,999.9 L1120.2,1001.8 L1120.9,1003.7 L1121.6,1005.5 L1122.3,1007.4 L1123.0,1009.3 L1123.7,1011.1 L1124.5,1013.0 L1125.2,1014.9 L1125.9,1016.7 L1126.6,1018.6 L1127.3,1020.5 L1128.1,1022.3 L1128.8,1024.2 L1129.5,1026.1 L1130.3,1027.9 L1131.0,1029.8 L1131.7,1031.7 L1132.5,1033.5 L1133.2,1035.4 L1133.9,1037.3 L1134.7,1039.1 L1135.4,1041.0 L1136.2,1042.8 L1136.9,1044.7 L1137.7,1046.5 L1138.4,1048.4 L1139.2,1050.3 L1139.9,1052.1 L1140.7,1054.0 L1141.4,1055.8 L1142.2,1057.7 L1143.0,1059.5 L1143.7,1061.4 L1144.5,1063.2 L1145.3,1065.1 L1146.0,1066.9 L1146.8,1068.8 L1147.6,1070.6 L1148.3,1072.5 L1149.1,1074.3 L1149.9,1076.2 L1150.7,1078.0 L1151.5,1079.8 L1152.3,1081.7 L1153.0,1083.5 L1153.8,1085.4 L1154.6,1087.2 L1155.4,1089.0 L1156.2,1090.9 L1157.0,1092.7 L1157.8,1094.6 L1158.6,1096.4 L1159.4,1098.2 L1160.2,1100.1 L1161.0,1101.9 L1161.8,1103.7 L1162.6,1105.6 L1163.4,1107.4 L1164.3,1109.2 L1165.1,1111.0 L1165.9,1112.9 L1166.7,1114.7 L1167.5,1116.5 L1168.4,1118.3 L1169.2,1120.2 L1170.0,1122.0 L1170.9,1123.8 L1171.7,1125.6 L1172.5,1127.5 L1173.4,1129.3 L1174.2,1131.1 L1175.0,1132.9 L1175.9,1134.7 L1176.7,1136.5 L1177.6,1138.3 L1178.4,1140.2 L1179.3,1142.0 L1180.2,1143.8 L1181.0,1145.6 L1181.9,1147.4 L1182.7,1149.2 L1183.6,1151.0 L1184.5,1152.8 L1185.3,1154.6 L1186.2,1156.4 L1187.1,1158.2 L1188.0,1160.0 L1188.8,1161.8 L1189.7,1163.6 L1190.6,1165.4 L1191.5,1167.2 L1192.4,1169.0 L1193.3,1170.8 L1194.2,1172.6 L1195.1,1174.4 L1196.0,1176.2 L1196.9,1178.0 L1197.8,1179.7 L1198.7,1181.5 L1199.6,1183.3 L1200.5,1185.1 L1201.4,1186.9 L1202.3,1188.7 L1203.2,1190.4 L1204.2,1192.2 L1205.1,1194.0 L1206.0,1195.8 L1206.9,1197.5 L1207.9,1199.3 L1208.8,1201.1 L1209.8,1202.8 L1210.7,1204.6 L1211.6,1206.4 L1212.6,1208.1 L1213.5,1209.9 L1214.5,1211.7 L1215.5,1213.4 L1216.4,1215.2 L1217.4,1216.9 L1218.4,1218.6 L1219.4,1220.4 L1220.4,1222.1 L1221.4,1223.8 L1222.5,1225.6 L1223.5,1227.3 L1224.5,1229.0 L1225.6,1230.7 L1226.7,1232.4 L1227.7,1234.1 L1228.8,1235.7 L1229.9,1237.4 L1231.1,1239.1 L1232.2,1240.7 L1233.3,1242.4 L1234.5,1244.0 L1235.7,1245.6 L1236.9,1247.2 L1238.1,1248.8 L1239.3,1250.4 L1240.5,1252.0 L1241.8,1253.5 L1243.1,1255.1 L1244.3,1256.6 L1245.6,1258.2 L1247.0,1259.7 L1248.3,1261.2 L1249.6,1262.7 L1251.0,1264.1 L1252.3,1265.6 L1253.7,1267.1 L1255.1,1268.5 L1256.5,1269.9 L1257.9,1271.4 L1259.3,1272.8 L1260.7,1274.2 L1262.2,1275.6 L1263.6,1276.9 L1265.1,1278.3 L1266.6,1279.7 L1268.0,1281.0 L1269.5,1282.4 L1271.0,1283.7 L1272.5,1285.0 L1274.0,1286.3 L1275.6,1287.7 L1277.1,1289.0 L1278.6,1290.2 L1280.1,1291.5 L1281.7,1292.8 L1283.2,1294.1 L1284.8,1295.3 L1286.4,1296.6 L1287.9,1297.8 L1289.5,1299.1 L1291.1,1300.3 L1292.7,1301.5 L1294.2,1302.8 L1295.8,1304.0 L1297.4,1305.2 L1299.0,1306.4 L1300.6,1307.6 L1302.2,1308.8 L1303.8,1310.0 L1305.5,1311.1 L1307.1,1312.3 L1308.7,1313.5 L1310.4,1314.6 L1312.0,1315.8 L1313.7,1316.9 L1315.3,1318.0 L1317.0,1319.1 L1318.7,1320.2 L1320.3,1321.3 L1322.0,1322.4 L1323.7,1323.4 L1325.4,1324.5 L1327.2,1325.5 L1328.9,1326.5 L1330.6,1327.5 L1332.4,1328.5 L1334.1,1329.5 L1335.9,1330.4 L1337.7,1331.4 L1339.4,1332.3 L1341.2,1333.2 L1343.0,1334.0 L1344.8,1334.9 L1346.7,1335.7 L1348.5,1336.6 L1350.3,1337.3 L1352.2,1338.1 L1354.0,1338.9 L1355.9,1339.6 L1357.8,1340.3 L1359.6,1341.0 L1361.5,1341.7 L1363.4,1342.4 L1365.3,1343.1 L1367.2,1343.7 L1369.1,1344.3 L1371.0,1344.9 L1372.9,1345.5 L1374.8,1346.1 L1376.8,1346.6 L1378.7,1347.2 L1380.6,1347.7 L1382.6,1348.2 L1384.5,1348.7 L1386.4,1349.2 L1388.4,1349.6 L1390.3,1350.1 L1392.3,1350.5 L1394.2,1351.0 L1396.2,1351.4 L1398.2,1351.8 L1400.1,1352.2 L1402.1,1352.6 L1404.1,1353.0 L1406.0,1353.3 L1408.0,1353.7 L1410.0,1354.0 L1411.9,1354.4 L1413.9,1354.7 L1415.9,1355.0 L1417.9,1355.3 L1419.9,1355.6 L1421.8,1355.9 L1423.8,1356.2 L1425.8,1356.5 L1427.8,1356.8 L1429.8,1357.0 L1431.7,1357.3 L1433.7,1357.5 L1435.7,1357.8 L1437.7,1358.0 L1439.7,1358.3 L1441.7,1358.5 L1443.7,1358.7 L1445.7,1359.0 L1447.7,1359.2 L1449.6,1359.4 L1451.6,1359.6 L1453.6,1359.8 L1455.6,1360.0 L1457.6,1360.2 L1459.6,1360.4 L1461.6,1360.6 L1463.6,1360.8 L1465.6,1361.0 L1467.6,1361.2 L1469.6,1361.4 L1471.6,1361.6 L1473.6,1361.8 L1475.6,1361.9 L1477.5,1362.1 L1479.5,1362.3 L1481.5,1362.4 L1483.5,1362.6 L1485.5,1362.8 L1487.5,1362.9 L1489.5,1363.1 L1491.5,1363.2 L1493.5,1363.4 L1495.5,1363.5 L1497.5,1363.6 L1499.5,1363.8 L1501.5,1363.9 L1503.5,1364.0 L1505.5,1364.2 L1507.5,1364.3 L1509.5,1364.4 L1511.5,1364.5 L1513.5,1364.7 L1515.5,1364.8 L1517.5,1364.9 L1519.5,1365.0 L1521.5,1365.1 L1523.5,1365.2 L1525.5,1365.3 L1527.5,1365.4 L1529.5,1365.5 L1531.5,1365.6 L1533.5,1365.7 L1535.5,1365.8 L1537.5,1365.9 L1539.5,1366.0 L1541.5,1366.0 L1543.5,1366.1 L1545.5,1366.2 L1547.5,1366.3 L1549.5,1366.4 L1551.5,1366.4 L1553.5,1366.5 L1555.5,1366.6 L1557.5,1366.6 L1559.5,1366.7 L1561.5,1366.8 L1563.5,1366.8 L1565.5,1366.9 L1567.5,1366.9 L1569.5,1367.0 L1571.5,1367.0 L1573.5,1367.1 L1575.5,1367.1 L1577.5,1367.2 L1579.5,1367.2 L1581.5,1367.3 L1583.5,1367.3 L1585.5,1367.4 L1587.5,1367.4 L1589.5,1367.5 L1591.5,1367.5 L1593.5,1367.5 L1595.5,1367.6 L1597.5,1367.6 L1599.5,1367.6 L1601.5,1367.7 L1603.5,1367.7 L1605.5,1367.7 L1607.6,1367.7 L1609.6,1367.8 L1611.6,1367.8 L1613.6,1367.8 L1615.6,1367.8 L1617.6,1367.9 L1619.6,1367.9 L1621.6,1367.9 L1623.6,1367.9 L1625.6,1368.0 L1627.6,1368.0 L1629.6,1368.0 L1631.6,1368.0 L1633.6,1368.0 L1635.6,1368.0 L1637.6,1368.0 L1639.6,1368.1 L1641.6,1368.1 L1643.6,1368.1 L1645.6,1368.1 L1647.6,1368.1 L1649.6,1368.1 L1651.6,1368.1 L1653.6,1368.1 L1655.6,1368.2 L1657.6,1368.2 L1659.6,1368.2 L1661.6,1368.2 L1663.6,1368.2 L1665.6,1368.2 L1667.6,1368.2 L1669.6,1368.2 L1671.6,1368.2 L1673.6,1368.2 L1675.6,1368.2 L1677.6,1368.2 L1679.6,1368.3 L1681.6,1368.3 L1683.6,1368.3 L1685.6,1368.3 L1687.6,1368.3 L1689.6,1368.3 L1691.6,1368.3 L1693.7,1368.3 L1695.7,1368.3 L1697.7,1368.3 L1699.7,1368.3 L1701.7,1368.3 L1703.7,1368.4 L1705.7,1368.4 L1707.7,1368.4 L1709.7,1368.4 L1711.7,1368.4 L1713.7,1368.4 L1715.7,1368.4 L1717.7,1368.4 L1719.7,1368.5 L1721.7,1368.5 L1723.7,1368.5 L1725.7,1368.5 L1727.7,1368.5 L1729.7,1368.5 L1731.7,1368.5 L1733.7,1368.6 L1735.7,1368.6 L1737.7,1368.6 L1739.7,1368.6 L1741.7,1368.6 L1743.7,1368.6 L1745.7,1368.7 L1747.7,1368.7 L1749.7,1368.7 L1751.7,1368.7 L1753.7,1368.7 L1755.7,1368.7 L1757.7,1368.8 L1759.7,1368.8 L1761.7,1368.8 L1763.7,1368.8 L1765.7,1368.8 L1767.7,1368.8 L1769.7,1368.9 L1771.7,1368.9 L1773.7,1368.9 L1775.7,1368.9 L1777.7,1368.9 L1779.7,1369.0 L1781.8,1369.0 L1783.8,1369.0 L1785.8,1369.0 L1787.8,1369.0 L1789.8,1369.1 L1791.8,1369.1 L1793.8,1369.1 L1795.8,1369.1 L1797.8,1369.1 L1799.8,1369.1 L1801.8,1369.2 L1803.8,1369.2 L1805.8,1369.2 L1807.8,1369.2 L1809.8,1369.2 L1811.8,1369.3 L1813.8,1369.3 L1815.8,1369.3 L1817.8,1369.3 L1819.8,1369.3 L1821.8,1369.3 L1823.8,1369.4 L1825.8,1369.4 L1827.8,1369.4 L1829.8,1369.4 L1831.8,1369.4 L1833.8,1369.5 L1835.8,1369.5 L1837.8,1369.5 L1839.8,1369.5 L1841.8,1369.5 L1843.8,1369.5 L1845.8,1369.6 L1847.8,1369.6 L1849.8,1369.6 L1851.8,1369.6 L1853.8,1369.6 L1855.8,1369.6 L1857.8,1369.6 L1859.8,1369.7 L1861.8,1369.7 L1863.8,1369.7 L1865.8,1369.7 L1867.8,1369.7 L1869.9,1369.7 L1871.9,1369.7 L1873.9,1369.8 L1875.9,1369.8 L1877.9,1369.8 L1879.9,1369.8 L1881.9,1369.8 L1883.9,1369.8 L1885.9,1369.8 L1887.9,1369.8 L1889.9,1369.8 L1891.9,1369.8 L1893.9,1369.9 L1895.9,1369.9 L1897.9,1369.9 L1899.9,1369.9 L1901.9,1369.9 L1903.9,1369.9 L1905.9,1369.9 L1907.9,1369.9 L1909.9,1369.9 L1911.9,1369.9 L1913.9,1369.9 L1915.9,1369.9 L1917.9,1369.9 L1919.9,1369.9 L1921.9,1369.9 L1923.9,1369.9 L1925.9,1369.9 L1927.9,1369.9 L1929.9,1369.9 L1931.9,1369.9 L1933.9,1369.9 L1935.9,1369.9 L1937.9,1369.9 L1939.9,1369.9 L1941.9,1369.9 L1943.9,1369.9 L1945.9,1369.9 L1947.9,1369.9 L1949.9,1369.9 L1951.9,1369.9 L1954.0,1369.9 L1956.0,1369.9 L1958.0,1369.9 L1960.0,1369.8 L1962.0,1369.8 L1964.0,1369.8 L1966.0,1369.8 L1968.0,1369.8 L1970.0,1369.8 L1972.0,1369.8 L1974.0,1369.8 L1976.0,1369.7 L1978.0,1369.7 L1980.0,1369.7 L1982.0,1369.7 L1984.0,1369.7 L1986.0,1369.7 L1988.0,1369.6 L1990.0,1369.6 L1992.0,1369.6 L1994.0,1369.6" stroke="#703998"/>
<path d="M366.4,991.0 L367.9,989.7 L369.4,988.3 L370.9,987.0 L372.4,985.6 L373.9,984.3 L375.4,982.9 L376.8,981.6 L378.3,980.2 L379.7,978.8 L381.2,977.4 L382.6,976.0 L384.0,974.6 L385.5,973.2 L386.9,971.8 L388.3,970.4 L389.7,968.9 L391.1,967.5 L392.5,966.1 L393.9,964.6 L395.3,963.2 L396.7,961.7 L398.0,960.3 L399.4,958.8 L400.8,957.4 L402.2,955.9 L403.5,954.4 L404.9,953.0 L406.2,951.5 L407.6,950.0 L408.9,948.5 L410.3,947.1 L411.6,945.6 L413.0,944.1 L414.3,942.6 L415.7,941.1 L417.0,939.6 L418.3,938.1 L419.7,936.7 L421.0,935.2 L422.4,933.7 L423.7,932.2 L425.0,930.7 L426.4,929.2 L427.7,927.7 L429.1,926.2 L430.4,924.7 L431.7,923.2 L433.1,921.8 L434.4,920.3 L435.8,918.8 L437.1,917.3 L438.5,915.8 L439.8,914.4 L441.2,912.9 L442.5,911.4 L443.9,909.9 L445.3,908.5 L446.6,907.0 L448.0,905.6 L449.4,904.1 L450.8,902.7 L452.2,901.2 L453.6,899.8 L455.0,898.3 L456.4,896.9 L457.8,895.5 L459.2,894.1 L460.6,892.6 L462.0,891.2 L463.5,889.8 L464.9,888.4 L466.3,887.0 L467.8,885.7 L469.2,884.3 L470.7,882.9 L472.2,881.6 L473.6,880.2 L475.1,878.9 L476.6,877.5 L478.1,876.2 L479.6,874.9 L481.2,873.6 L482.7,872.3 L484.2,871.0 L485.8,869.8 L487.4,868.5 L488.9,867.3 L490.5,866.0 L492.1,864.8 L493.7,863.7 L495.4,862.5 L497.0,861.3 L498.6,860.2 L500.3,859.1 L502.0,858.0 L503.7,856.9 L505.4,855.9 L507.1,854.9 L508.8,853.9 L510.6,852.9 L512.4,851.9 L514.1,851.0 L515.9,850.1 L517.7,849.3 L519.6,848.4 L521.4,847.6 L523.3,846.9 L525.1,846.1 L527.0,845.4 L528.9,844.7 L530.8,844.1 L532.7,843.4 L534.6,842.8 L536.5,842.3 L538.4,841.7 L540.4,841.2 L542.3,840.7 L544.3,840.3 L546.2,839.8 L548.2,839.4 L550.1,839.0 L552.1,838.6 L554.1,838.2 L556.0,837.9 L558.0,837.5 L560.0,837.1 L561.9,836.7 L563.9,836.4 L565.9,836.0 L567.8,835.6 L569.8,835.2 L571.8,834.8 L573.7,834.5 L575.7,834.1 L577.7,833.7 L579.6,833.3 L581.6,832.9 L583.6,832.5 L585.5,832.1 L587.5,831.8 L589.5,831.4 L591.4,831.0 L593.4,830.6 L595.4,830.2 L597.3,829.8 L599.3,829.4 L601.2,829.0 L603.2,828.7 L605.2,828.3 L607.1,827.9 L609.1,827.5 L611.1,827.1 L613.0,826.7 L615.0,826.4 L617.0,826.0 L618.9,825.6 L620.9,825.2 L622.9,824.8 L624.8,824.5 L626.8,824.1 L628.8,823.7 L630.8,823.4 L632.7,823.0 L634.7,822.7 L636.7,822.3 L638.6,821.9 L640.6,821.6 L642.6,821.2 L644.6,820.9 L646.5,820.6 L648.5,820.2 L650.5,819.9 L652.5,819.6 L654.4,819.2 L656.4,818.9 L658.4,818.6 L660.4,818.3 L662.3,818.0 L664.3,817.7 L666.3,817.4 L668.3,817.1 L670.3,816.8 L672.2,816.5 L674.2,816.2 L676.2,815.9 L678.2,815.7 L680.2,815.4 L682.2,815.1 L684.2,814.9 L686.1,814.6 L688.1,814.4 L690.1,814.1 L692.1,813.9 L694.1,813.7 L696.1,813.4 L698.1,813.2 L700.1,813.0 L702.1,812.8 L704.1,812.6 L706.1,812.4 L708.0,812.2 L710.0,812.0 L712.0,811.8 L714.0,811.7 L716.0,811.5 L718.0,811.3 L720.0,811.2 L722.0,811.0 L724.0,810.9 L726.0,810.8 L728.0,810.7 L730.0,810.5 L732.0,810.4 L734.0,810.3 L736.0,810.2 L738.0,810.2 L740.0,810.1 L742.0,810.0 L744.0,810.0 L746.0,809.9 L748.0,809.9 L750.0,809.8 L752.0,809.8 L754.0,809.8 L756.0,809.8 L758.0,809.8 L760.0,809.8 L762.0,809.9 L764.1,809.9 L766.1,810.0 L768.1,810.1 L770.1,810.1 L772.1,810.2 L774.1,810.3 L776.1,810.5 L778.1,810.6 L780.1,810.7 L782.1,810.9 L784.0,811.1 L786.0,811.2 L788.0,811.4 L790.0,811.7 L792.0,811.9 L794.0,812.2 L796.0,812.4 L798.0,812.7 L799.9,813.1 L801.9,813.4 L803.9,813.8 L805.9,814.1 L807.8,814.5 L809.8,815.0 L811.7,815.4 L813.7,815.9 L815.6,816.4 L817.5,816.9 L819.5,817.5 L821.4,818.1 L823.3,818.7 L825.2,819.3 L827.1,819.9 L829.0,820.6 L830.9,821.3 L832.7,822.0 L834.6,822.7 L836.5,823.5 L838.3,824.3 L840.1,825.1 L842.0,825.9 L843.8,826.7 L845.6,827.5 L847.4,828.4 L849.2,829.3 L851.0,830.2 L852.8,831.1 L854.5,832.1 L856.3,833.0 L858.1,834.0 L859.8,835.0 L861.5,836.0 L863.2,837.0 L865.0,838.1 L866.7,839.1 L868.3,840.2 L870.0,841.3 L871.7,842.4 L873.4,843.5 L875.0,844.6 L876.7,845.8 L878.3,847.0 L879.9,848.1 L881.5,849.3 L883.1,850.5 L884.7,851.8 L886.3,853.0 L887.8,854.2 L889.4,855.5 L891.0,856.8 L892.5,858.1 L894.0,859.4 L895.5,860.7 L897.0,862.0 L898.5,863.3 L900.0,864.7 L901.5,866.0 L903.0,867.4 L904.4,868.8 L905.9,870.1 L907.3,871.5 L908.7,872.9 L910.1,874.4 L911.5,875.8 L912.9,877.2 L914.3,878.7 L915.7,880.1 L917.1,881.6 L918.4,883.0 L919.8,884.5 L921.1,886.0 L922.5,887.5 L923.8,889.0 L925.1,890.5 L926.4,892.0 L927.7,893.5 L929.0,895.1 L930.3,896.6 L931.6,898.1 L932.9,899.7 L934.2,901.2 L935.4,902.8 L936.7,904.4 L937.9,905.9 L939.2,907.5 L940.4,909.1 L941.6,910.7 L942.8,912.2 L944.1,913.8 L945.3,915.4 L946.5,917.0 L947.7,918.6 L948.9,920.2 L950.1,921.8 L951.3,923.5 L952.4,925.1 L953.6,926.7 L954.8,928.3 L956.0,929.9 L957.1,931.6 L958.3,933.2 L959.4,934.8 L960.6,936.5 L961.7,938.1 L962.9,939.8 L964.0,941.4 L965.2,943.0 L966.3,944.7 L967.5,946.3 L968.6,948.0 L969.7,949.7 L970.8,951.3 L972.0,953.0 L973.1,954.6 L974.2,956.3 L975.3,958.0 L976.4,959.6 L977.5,961.3 L978.6,963.0 L979.7,964.6 L980.9,966.3 L981.9,968.0 L983.0,969.7 L984.1,971.3 L985.2,973.0 L986.3,974.7 L987.4,976.4 L988.5,978.1 L989.6,979.8 L990.6,981.4 L991.7,983.1 L992.8,984.8 L993.9,986.5 L994.9,988.2 L996.0,989.9 L997.1,991.6 L998.1,993.3 L999.2,995.0 L1000.2,996.7 L1001.3,998.4 L1002.4,1000.1 L1003.4,1001.8 L1004.5,1003.5 L1005.5,1005.2 L1006.6,1006.9 L1007.6,1008.6 L1008.7,1010.3 L1009.7,1012.0 L1010.7,1013.8 L1011.8,1015.5 L1012.8,1017.2 L1013.9,1018.9 L1014.9,1020.6 L1015.9,1022.3 L1017.0,1024.0 L1018.0,1025.8 L1019.0,1027.5 L1020.1,1029.2 L1021.1,1030.9 L1022.1,1032.6 L1023.2,1034.3 L1024.2,1036.1 L1025.2,1037.8 L1026.2,1039.5 L1027.3,1041.2 L1028.3,1042.9 L1029.3,1044.7 L1030.3,1046.4 L1031.4,1048.1 L1032.4,1049.8 L1033.4,1051.6 L1034.4,1053.3 L1035.4,1055.0 L1036.5,1056.7 L1037.5,1058.5 L1038.5,1060.2 L1039.5,1061.9 L1040.5,1063.6 L1041.6,1065.3 L1042.6,1067.1 L1043.6,1068.8 L1044.6,1070.5 L1045.6,1072.2 L1046.7,1074.0 L1047.7,1075.7 L1048.7,1077.4 L1049.7,1079.1 L1050.7,1080.9 L1051.8,1082.6 L1052.8,1084.3 L1053.8,1086.0 L1054.8,1087.8 L1055.9,1089.5 L1056.9,1091.2 L1057.9,1092.9 L1058.9,1094.6 L1060.0,1096.4 L1061.0,1098.1 L1062.0,1099.8 L1063.0,1101.5 L1064.1,1103.2 L1065.1,1105.0 L1066.1,1106.7 L1067.2,1108.4 L1068.2,1110.1 L1069.2,1111.8 L1070.3,1113.5 L1071.3,1115.2 L1072.3,1117.0 L1073.4,1118.7 L1074.4,1120.4 L1075.5,1122.1 L1076.5,1123.8 L1077.6,1125.5 L1078.6,1127.2 L1079.7,1128.9 L1080.7,1130.6 L1081.8,1132.3 L1082.8,1134.0 L1083.9,1135.7 L1084.9,1137.4 L1086.0,1139.1 L1087.1,1140.8 L1088.1,1142.5 L1089.2,1144.2 L1090.3,1145.9 L1091.3,1147.6 L1092.4,1149.3 L1093.5,1151.0 L1094.6,1152.7 L1095.6,1154.4 L1096.7,1156.0 L1097.8,1157.7 L1098.9,1159.4 L1100.0,1161.1 L1101.1,1162.8 L1102.2,1164.4 L1103.3,1166.1 L1104.4,1167.8 L1105.5,1169.5 L1106.6,1171.1 L1107.7,1172.8 L1108.8,1174.5 L1109.9,1176.1 L1111.1,1177.8 L1112.2,1179.4 L1113.3,1181.1 L1114.4,1182.7 L1115.6,1184.4 L1116.7,1186.0 L1117.9,1187.7 L1119.0,1189.3 L1120.2,1191.0 L1121.3,1192.6 L1122.5,1194.3 L1123.6,1195.9 L1124.8,1197.5 L1125.9,1199.1 L1127.1,1200.8 L1128.3,1202.4 L1129.5,1204.0 L1130.7,1205.6 L1131.8,1207.2 L1133.0,1208.9 L1134.2,1210.5 L1135.4,1212.1 L1136.6,1213.7 L1137.8,1215.3 L1139.0,1216.9 L1140.3,1218.5 L1141.5,1220.0 L1142.7,1221.6 L1143.9,1223.2 L1145.2,1224.8 L1146.4,1226.4 L1147.7,1227.9 L1148.9,1229.5 L1150.1,1231.1 L1151.4,1232.6 L1152.7,1234.2 L1153.9,1235.7 L1155.2,1237.3 L1156.5,1238.8 L1157.8,1240.4 L1159.0,1241.9 L1160.3,1243.4 L1161.6,1245.0 L1162.9,1246.5 L1164.2,1248.0 L1165.5,1249.5 L1166.9,1251.0 L1168.2,1252.5 L1169.5,1254.0 L1170.8,1255.5 L1172.2,1257.0 L1173.5,1258.5 L1174.9,1260.0 L1176.2,1261.5 L1177.6,1262.9 L1179.0,1264.4 L1180.4,1265.8 L1181.7,1267.3 L1183.1,1268.7 L1184.5,1270.2 L1185.9,1271.6 L1187.3,1273.0 L1188.8,1274.4 L1190.2,1275.8 L1191.6,1277.2 L1193.1,1278.6 L1194.5,1280.0 L1196.0,1281.4 L1197.5,1282.7 L1198.9,1284.1 L1200.4,1285.4 L1201.9,1286.8 L1203.4,1288.1 L1204.9,1289.4 L1206.4,1290.7 L1208.0,1292.0 L1209.5,1293.3 L1211.0,1294.6 L1212.6,1295.8 L1214.1,1297.1 L1215.7,1298.3 L1217.3,1299.6 L1218.9,1300.8 L1220.5,1302.0 L1222.1,1303.2 L1223.7,1304.4 L1225.3,1305.6 L1226.9,1306.7 L1228.6,1307.9 L1230.2,1309.0 L1231.9,1310.1 L1233.6,1311.3 L1235.2,1312.3 L1236.9,1313.4 L1238.6,1314.5 L1240.3,1315.5 L1242.0,1316.6 L1243.8,1317.6 L1245.5,1318.6 L1247.2,1319.6 L1249.0,1320.6 L1250.7,1321.5 L1252.5,1322.5 L1254.3,1323.4 L1256.1,1324.4 L1257.8,1325.3 L1259.6,1326.2 L1261.4,1327.0 L1263.2,1327.9 L1265.0,1328.8 L1266.9,1329.6 L1268.7,1330.4 L1270.5,1331.2 L1272.4,1332.0 L1274.2,1332.8 L1276.1,1333.6 L1277.9,1334.3 L1279.8,1335.0 L1281.6,1335.8 L1283.5,1336.5 L1285.4,1337.2 L1287.3,1337.9 L1289.2,1338.5 L1291.1,1339.2 L1293.0,1339.8 L1294.9,1340.5 L1296.8,1341.1 L1298.7,1341.7 L1300.6,1342.3 L1302.5,1342.8 L1304.4,1343.4 L1306.4,1343.9 L1308.3,1344.5 L1310.2,1345.0 L1312.2,1345.5 L1314.1,1346.0 L1316.1,1346.5 L1318.0,1346.9 L1320.0,1347.4 L1321.9,1347.8 L1323.9,1348.3 L1325.8,1348.7 L1327.8,1349.1 L1329.8,1349.5 L1331.7,1349.9 L1333.7,1350.2 L1335.7,1350.6 L1337.6,1350.9 L1339.6,1351.3 L1341.6,1351.6 L1343.6,1351.9 L1345.5,1352.2 L1347.5,1352.5 L1349.5,1352.8 L1351.5,1353.1 L1353.5,1353.4 L1355.4,1353.6 L1357.4,1353.9 L1359.4,1354.2 L1361.4,1354.4 L1363.4,1354.6 L1365.4,1354.9 L1367.4,1355.1 L1369.4,1355.3 L1371.4,1355.5 L1373.4,1355.7 L1375.3,1355.9 L1377.3,1356.1 L1379.3,1356.3 L1381.3,1356.5 L1383.3,1356.7 L1385.3,1356.9 L1387.3,1357.1 L1389.3,1357.2 L1391.3,1357.4 L1393.3,1357.6 L1395.3,1357.7 L1397.3,1357.9 L1399.3,1358.1 L1401.3,1358.2 L1403.3,1358.4 L1405.3,1358.5 L1407.3,1358.7 L1409.3,1358.8 L1411.3,1359.0 L1413.3,1359.1 L1415.3,1359.2 L1417.3,1359.4 L1419.3,1359.5 L1421.3,1359.6 L1423.3,1359.8 L1425.3,1359.9 L1427.3,1360.0 L1429.3,1360.1 L1431.3,1360.3 L1433.3,1360.4 L1435.3,1360.5 L1437.3,1360.6 L1439.3,1360.7 L1441.3,1360.8 L1443.3,1360.9 L1445.3,1361.0 L1447.3,1361.1 L1449.3,1361.2 L1451.3,1361.3 L1453.3,1361.4 L1455.3,1361.5 L1457.3,1361.6 L1459.3,1361.7 L1461.3,1361.8 L1463.3,1361.9 L1465.3,1362.0 L1467.3,1362.1 L1469.3,1362.2 L1471.3,1362.3 L1473.3,1362.3 L1475.3,1362.4 L1477.3,1362.5 L1479.3,1362.6 L1481.3,1362.7 L1483.3,1362.7 L1485.3,1362.8 L1487.3,1362.9 L1489.3,1363.0 L1491.3,1363.0 L1493.3,1363.1 L1495.3,1363.2 L1497.3,1363.3 L1499.3,1363.3 L1501.3,1363.4 L1503.3,1363.5 L1505.3,1363.5 L1507.3,1363.6 L1509.3,1363.7 L1511.3,1363.7 L1513.3,1363.8 L1515.3,1363.9 L1517.3,1363.9 L1519.3,1364.0 L1521.3,1364.1 L1523.3,1364.1 L1525.3,1364.2 L1527.3,1364.3 L1529.3,1364.3 L1531.3,1364.4 L1533.3,1364.4 L1535.3,1364.5 L1537.3,1364.6 L1539.3,1364.6 L1541.3,1364.7 L1543.3,1364.7 L1545.3,1364.8 L1547.3,1364.9 L1549.3,1364.9 L1551.4,1365.0 L1553.4,1365.0 L1555.4,1365.1 L1557.4,1365.1 L1559.4,1365.2 L1561.4,1365.2 L1563.4,1365.3 L1565.4,1365.3 L1567.4,1365.4 L1569.4,1365.4 L1571.4,1365.5 L1573.4,1365.5 L1575.4,1365.6 L1577.4,1365.6 L1579.4,1365.7 L1581.4,1365.7 L1583.4,1365.8 L1585.4,1365.8 L1587.4,1365.9 L1589.4,1365.9 L1591.4,1366.0 L1593.4,1366.0 L1595.4,1366.1 L1597.4,1366.1 L1599.4,1366.2 L1601.4,1366.2 L1603.4,1366.2 L1605.4,1366.3 L1607.4,1366.3 L1609.4,1366.4 L1611.4,1366.4 L1613.4,1366.5 L1615.4,1366.5 L1617.4,1366.5 L1619.4,1366.6 L1621.4,1366.6 L1623.4,1366.7 L1625.4,1366.7 L1627.4,1366.7 L1629.5,1366.8 L1631.5,1366.8 L1633.5,1366.8 L1635.5,1366.9 L1637.5,1366.9 L1639.5,1366.9 L1641.5,1367.0 L1643.5,1367.0 L1645.5,1367.0 L1647.5,1367.1 L1649.5,1367.1 L1651.5,1367.2 L1653.5,1367.2 L1655.5,1367.2 L1657.5,1367.2 L1659.5,1367.3 L1661.5,1367.3 L1663.5,1367.3 L1665.5,1367.4 L1667.5,1367.4 L1669.5,1367.4 L1671.5,1367.5 L1673.5,1367.5 L1675.5,1367.5 L1677.5,1367.5 L1679.5,1367.6 L1681.5,1367.6 L1683.5,1367.6 L1685.5,1367.7 L1687.5,1367.7 L1689.5,1367.7 L1691.5,1367.7 L1693.5,1367.8 L1695.5,1367.8 L1697.5,1367.8 L1699.6,1367.8 L1701.6,1367.9 L1703.6,1367.9 L1705.6,1367.9 L1707.6,1367.9 L1709.6,1368.0 L1711.6,1368.0 L1713.6,1368.0 L1715.6,1368.0 L1717.6,1368.0 L1719.6,1368.1 L1721.6,1368.1 L1723.6,1368.1 L1725.6,1368.1 L1727.6,1368.2 L1729.6,1368.2 L1731.6,1368.2 L1733.6,1368.2 L1735.6,1368.2 L1737.6,1368.3 L1739.6,1368.3 L1741.6,1368.3 L1743.6,1368.3 L1745.6,1368.3 L1747.6,1368.3 L1749.6,1368.4 L1751.6,1368.4 L1753.6,1368.4 L1755.6,1368.4 L1757.6,1368.4 L1759.6,1368.5 L1761.6,1368.5 L1763.6,1368.5 L1765.6,1368.5 L1767.7,1368.5 L1769.7,1368.5 L1771.7,1368.5 L1773.7,1368.6 L1775.7,1368.6 L1777.7,1368.6 L1779.7,1368.6 L1781.7,1368.6 L1783.7,1368.6 L1785.7,1368.6 L1787.7,1368.7 L1789.7,1368.7 L1791.7,1368.7 L1793.7,1368.7 L1795.7,1368.7 L1797.7,1368.7 L1799.7,1368.7 L1801.7,1368.8 L1803.7,1368.8 L1805.7,1368.8 L1807.7,1368.8 L1809.7,1368.8 L1811.7,1368.8 L1813.7,1368.8 L1815.7,1368.8 L1817.7,1368.9 L1819.7,1368.9 L1821.7,1368.9 L1823.7,1368.9 L1825.7,1368.9 L1827.7,1368.9 L1829.7,1368.9 L1831.7,1368.9 L1833.8,1368.9 L1835.8,1369.0 L1837.8,1369.0 L1839.8,1369.0 L1841.8,1369.0 L1843.8,1369.0 L1845.8,1369.0 L1847.8,1369.0 L1849.8,1369.0 L1851.8,1369.0 L1853.8,1369.0 L1855.8,1369.1 L1857.8,1369.1 L1859.8,1369.1 L1861.8,1369.1 L1863.8,1369.1 L1865.8,1369.1 L1867.8,1369.1 L1869.8,1369.1 L1871.8,1369.1 L1873.8,1369.1 L1875.8,1369.1 L1877.8,1369.2 L1879.8,1369.2 L1881.8,1369.2 L1883.8,1369.2 L1885.8,1369.2 L1887.8,1369.2 L1889.8,1369.2 L1891.8,1369.2 L1893.8,1369.2 L1895.8,1369.2 L1897.9,1369.2 L1899.9,1369.2 L1901.9,1369.3 L1903.9,1369.3 L1905.9,1369.3 L1907.9,1369.3 L1909.9,1369.3 L1911.9,1369.3 L1913.9,1369.3 L1915.9,1369.3 L1917.9,1369.3 L1919.9,1369.3 L1921.9,1369.3 L1923.9,1369.3 L1925.9,1369.4 L1927.9,1369.4 L1929.9,1369.4 L1931.9,1369.4 L1933.9,1369.4 L1935.9,1369.4 L1937.9,1369.4 L1939.9,1369.4 L1941.9,1369.4 L1943.9,1369.4 L1945.9,1369.4 L1947.9,1369.5 L1949.9,1369.5 L1951.9,1369.5 L1953.9,1369.5 L1955.9,1369.5 L1957.9,1369.5 L1959.9,1369.5 L1961.9,1369.5 L1964.0,1369.5 L1966.0,1369.5 L1968.0,1369.5 L1970.0,1369.6 L1972.0,1369.6 L1974.0,1369.6 L1976.0,1369.6 L1978.0,1369.6 L1980.0,1369.6 L1982.0,1369.6 L1984.0,1369.6 L1986.0,1369.6 L1988.0,1369.6 L1990.0,1369.7 L1992.0,1369.7 L1994.0,1369.7" stroke="#70AD47"/>
</g>
</g>
<g stroke="#08090b" stroke-width="10.5" fill="none">
<line x1="341.8" y1="1369.60" x2="366.50" y2="1369.60"/>
<line x1="341.8" y1="1237.90" x2="366.50" y2="1237.90"/>
<line x1="341.8" y1="1112.30" x2="366.50" y2="1112.30"/>
<line x1="341.8" y1="980.70" x2="366.50" y2="980.70"/>
<line x1="341.8" y1="848.90" x2="366.50" y2="848.90"/>
<line x1="341.8" y1="723.30" x2="366.50" y2="723.30"/>
<line x1="341.8" y1="591.60" x2="366.50" y2="591.60"/>
<line x1="341.8" y1="459.60" x2="366.50" y2="459.60"/>
<line x1="341.8" y1="334.20" x2="366.50" y2="334.20"/>
<line x1="341.8" y1="202.40" x2="366.50" y2="202.40"/>
<line x1="341.8" y1="77.00" x2="366.50" y2="77.00"/>
<line x1="366.50" y1="1369.80" x2="366.50" y2="1395"/>
<line x1="911.05" y1="1369.80" x2="911.05" y2="1395"/>
<line x1="1456.50" y1="1369.80" x2="1456.50" y2="1395"/>
<line x1="1994.60" y1="1369.80" x2="1994.60" y2="1395"/>
</g>
<path d="M366.5,1369.8 L366.5,77.0 L1994.6,77.0 L1994.6,1369.8" stroke="#08090b" stroke-width="10.4" fill="none" stroke-linejoin="round"/>
<line x1="361.25" y1="1370.1" x2="1999.8" y2="1370.1" stroke="#08090b" stroke-width="11.4"/>
<g fill="#08090b" font-family="'Liberation Sans', Arial, sans-serif" font-weight="bold" font-size="77">
<text x="261" y="1396.9" text-anchor="middle">0</text>
<text x="261" y="1267.2" text-anchor="middle">10</text>
<text x="261" y="1137.5" text-anchor="middle">20</text>
<text x="261" y="1007.9" text-anchor="middle">30</text>
<text x="261" y="878.2" text-anchor="middle">40</text>
<text x="261" y="748.5" text-anchor="middle">50</text>
<text x="261" y="618.8" text-anchor="middle">60</text>
<text x="261" y="489.1" text-anchor="middle">70</text>
<text x="261" y="359.5" text-anchor="middle">80</text>
<text x="261" y="229.8" text-anchor="middle">90</text>
<text x="195.7" y="100.8" textLength="126.9" lengthAdjust="spacingAndGlyphs">100</text>
<text x="370.0" y="1497" text-anchor="middle">400</text>
<text x="913.5" y="1497" text-anchor="middle">500</text>
<text x="1456.4" y="1497" text-anchor="middle">600</text>
<text x="1998.8" y="1497" text-anchor="middle">700</text>
</g>
<g stroke-width="8.4" stroke-linecap="round">
<line x1="1599" y1="196.2" x2="1760.5" y2="196.2" stroke="#4772B9"/>
<text fill="#08090b" font-family="'Liberation Sans', Arial, sans-serif" font-weight="bold" font-size="85" x="1775.6" y="220.4" textLength="82.5" lengthAdjust="spacingAndGlyphs">1a</text>
<line x1="1599" y1="328.0" x2="1760.5" y2="328.0" stroke="#ED7D31"/>
<text fill="#08090b" font-family="'Liberation Sans', Arial, sans-serif" font-weight="bold" font-size="85" x="1775.3" y="356.0" textLength="90.3" lengthAdjust="spacingAndGlyphs">1b</text>
<line x1="1599" y1="466.0" x2="1760.5" y2="466.0" stroke="#A3A5A4"/>
<text fill="#08090b" font-family="'Liberation Sans', Arial, sans-serif" font-weight="bold" font-size="85" x="1775.7" y="493.7" textLength="79.7" lengthAdjust="spacingAndGlyphs">1c</text>
<line x1="1599" y1="604.0" x2="1760.5" y2="604.0" stroke="#FCBF12"/>
<text fill="#08090b" font-family="'Liberation Sans', Arial, sans-serif" font-weight="bold" font-size="85" x="1776.1" y="629.4" textLength="81.0" lengthAdjust="spacingAndGlyphs">2a</text>
<line x1="1599" y1="736.0" x2="1760.5" y2="736.0" stroke="#703998"/>
<text fill="#08090b" font-family="'Liberation Sans', Arial, sans-serif" font-weight="bold" font-size="85" x="1776.0" y="766.0" textLength="89.6" lengthAdjust="spacingAndGlyphs">2b</text>
<line x1="1599" y1="874.0" x2="1760.5" y2="874.0" stroke="#70AD47"/>
<text fill="#08090b" font-family="'Liberation Sans', Arial, sans-serif" font-weight="bold" font-size="85" x="1776.2" y="901.6" textLength="79.2" lengthAdjust="spacingAndGlyphs">2c</text>
</g>
<g fill="#08090b" font-family="'Liberation Sans', Arial, sans-serif" font-weight="bold" font-size="86">
<text x="842.1" y="1619.2" textLength="647.9" lengthAdjust="spacingAndGlyphs">Wavelength [nm]</text>
<text transform="translate(125.6,925.9) rotate(-90)" font-size="84" textLength="313.3" lengthAdjust="spacingAndGlyphs">IPCE [%]</text>
</g>
</svg>
</body></html>
